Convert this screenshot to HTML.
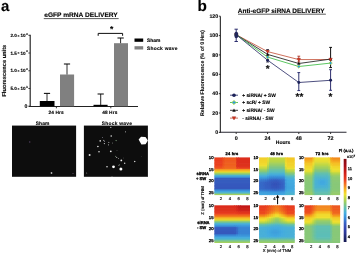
<!DOCTYPE html>
<html><head><meta charset="utf-8"><style>
html,body{margin:0;padding:0;background:#fff;}
svg{display:block;}
text{font-family:"Liberation Sans", sans-serif;text-rendering:geometricPrecision;}
</style></head><body>
<svg width="358" height="255" viewBox="0 0 358 255">
<defs><filter id="bl" x="-2%" y="-2%" width="104%" height="104%"><feGaussianBlur stdDeviation="0.5"/></filter>
<filter id="soft" x="0" y="0" width="100%" height="100%" filterUnits="userSpaceOnUse"><feGaussianBlur stdDeviation="0.3"/></filter></defs>
<rect x="0" y="0" width="358" height="255" fill="#fff"/>
<g filter="url(#soft)">
<text x="1.10" y="11.20" font-size="15.0" text-anchor="start" font-weight="bold" fill="#000"  stroke="#000" stroke-width="0.12">a</text>
<text x="81.00" y="17.30" font-size="6.6" text-anchor="middle" font-weight="bold" fill="#000"  stroke="#000" stroke-width="0.12">eGFP mRNA DELIVERY</text>
<line x1="43.80" y1="18.60" x2="118.60" y2="18.60" stroke="#111" stroke-width="0.7" />
<line x1="30.20" y1="34.80" x2="30.20" y2="106.90" stroke="#222" stroke-width="1.15" />
<line x1="28.40" y1="35.30" x2="30.20" y2="35.30" stroke="#222" stroke-width="0.9" />
<text x="10.40" y="36.85" font-size="4.6" text-anchor="start" font-weight="bold" fill="#000"  stroke="#000" stroke-width="0.12">2.0</text>
<text x="17.60" y="36.60" font-size="3.4" text-anchor="start" font-weight="normal" fill="#000" stroke="#000" stroke-width="0.2">×</text>
<text x="20.50" y="36.85" font-size="4.6" text-anchor="start" font-weight="bold" fill="#000"  stroke="#000" stroke-width="0.12">10</text>
<text x="26.00" y="34.60" font-size="3.0" text-anchor="start" font-weight="bold" fill="#000"  stroke="#000" stroke-width="0.12">4</text>
<line x1="28.40" y1="53.02" x2="30.20" y2="53.02" stroke="#222" stroke-width="0.9" />
<text x="10.40" y="54.57" font-size="4.6" text-anchor="start" font-weight="bold" fill="#000"  stroke="#000" stroke-width="0.12">1.5</text>
<text x="17.60" y="54.32" font-size="3.4" text-anchor="start" font-weight="normal" fill="#000" stroke="#000" stroke-width="0.2">×</text>
<text x="20.50" y="54.57" font-size="4.6" text-anchor="start" font-weight="bold" fill="#000"  stroke="#000" stroke-width="0.12">10</text>
<text x="26.00" y="52.32" font-size="3.0" text-anchor="start" font-weight="bold" fill="#000"  stroke="#000" stroke-width="0.12">4</text>
<line x1="28.40" y1="70.75" x2="30.20" y2="70.75" stroke="#222" stroke-width="0.9" />
<text x="10.40" y="72.30" font-size="4.6" text-anchor="start" font-weight="bold" fill="#000"  stroke="#000" stroke-width="0.12">1.0</text>
<text x="17.60" y="72.05" font-size="3.4" text-anchor="start" font-weight="normal" fill="#000" stroke="#000" stroke-width="0.2">×</text>
<text x="20.50" y="72.30" font-size="4.6" text-anchor="start" font-weight="bold" fill="#000"  stroke="#000" stroke-width="0.12">10</text>
<text x="26.00" y="70.05" font-size="3.0" text-anchor="start" font-weight="bold" fill="#000"  stroke="#000" stroke-width="0.12">4</text>
<line x1="28.40" y1="88.47" x2="30.20" y2="88.47" stroke="#222" stroke-width="0.9" />
<text x="10.40" y="90.02" font-size="4.6" text-anchor="start" font-weight="bold" fill="#000"  stroke="#000" stroke-width="0.12">5.0</text>
<text x="17.60" y="89.77" font-size="3.4" text-anchor="start" font-weight="normal" fill="#000" stroke="#000" stroke-width="0.2">×</text>
<text x="20.50" y="90.02" font-size="4.6" text-anchor="start" font-weight="bold" fill="#000"  stroke="#000" stroke-width="0.12">10</text>
<text x="26.00" y="87.77" font-size="3.0" text-anchor="start" font-weight="bold" fill="#000"  stroke="#000" stroke-width="0.12">3</text>
<line x1="28.40" y1="106.20" x2="30.20" y2="106.20" stroke="#222" stroke-width="0.9" />
<text x="24.50" y="108.10" font-size="5.2" text-anchor="start" font-weight="bold" fill="#000"  stroke="#000" stroke-width="0.12">0</text>
<text transform="translate(6.0,70.7) rotate(-90)" x="0" y="0" font-size="5.7" text-anchor="middle" font-weight="bold" fill="#111" stroke="#000" stroke-width="0.12">Fluorescence units</text>
<line x1="28.80" y1="106.45" x2="138.00" y2="106.45" stroke="#222" stroke-width="1.15" />
<line x1="56.40" y1="106.45" x2="56.40" y2="108.30" stroke="#222" stroke-width="0.9" />
<line x1="110.80" y1="106.45" x2="110.80" y2="108.30" stroke="#222" stroke-width="0.9" />
<text x="56.10" y="114.00" font-size="4.8" text-anchor="middle" font-weight="bold" fill="#000" letter-spacing="0.1" stroke="#000" stroke-width="0.12">24 Hrs</text>
<text x="109.80" y="114.00" font-size="4.8" text-anchor="middle" font-weight="bold" fill="#000" letter-spacing="0.1" stroke="#000" stroke-width="0.12">48 Hrs</text>
<rect x="39.80" y="101.00" width="14.70" height="5.30" fill="#000" />
<rect x="60.00" y="74.50" width="14.10" height="31.80" fill="#808080" />
<rect x="93.50" y="104.80" width="14.10" height="1.50" fill="#000" />
<rect x="114.00" y="43.20" width="14.00" height="63.10" fill="#808080" />
<line x1="47.00" y1="93.40" x2="47.00" y2="101.00" stroke="#111" stroke-width="0.9" />
<line x1="43.90" y1="93.40" x2="50.10" y2="93.40" stroke="#111" stroke-width="1.08" />
<line x1="67.00" y1="64.00" x2="67.00" y2="74.50" stroke="#111" stroke-width="0.9" />
<line x1="63.90" y1="64.00" x2="70.10" y2="64.00" stroke="#111" stroke-width="1.08" />
<line x1="100.70" y1="94.00" x2="100.70" y2="105.00" stroke="#111" stroke-width="0.9" />
<line x1="97.60" y1="94.00" x2="103.80" y2="94.00" stroke="#111" stroke-width="1.08" />
<line x1="120.60" y1="38.00" x2="120.60" y2="43.20" stroke="#111" stroke-width="0.9" />
<line x1="117.50" y1="38.00" x2="123.70" y2="38.00" stroke="#111" stroke-width="1.08" />
<path d="M98.2,35.8 L98.2,33.4 L122.6,33.4 L122.6,35.8" fill="none" stroke="#111" stroke-width="1.0"/>
<text x="111.60" y="32.20" font-size="8.5" text-anchor="middle" font-weight="bold" fill="#000"  stroke="#000" stroke-width="0.12">*</text>
<rect x="134.50" y="38.50" width="8.70" height="3.30" fill="#000" />
<rect x="134.50" y="46.20" width="8.70" height="3.30" fill="#808080" />
<text x="147.00" y="41.80" font-size="4.9" text-anchor="start" font-weight="bold" fill="#000"  stroke="#000" stroke-width="0.12">Sham</text>
<text x="147.00" y="49.80" font-size="4.9" text-anchor="start" font-weight="bold" fill="#000" letter-spacing="0.28" stroke="#000" stroke-width="0.12">Shock wave</text>
<text x="42.60" y="124.70" font-size="4.9" text-anchor="middle" font-weight="bold" fill="#000" letter-spacing="0.15" stroke="#000" stroke-width="0.12">Sham</text>
<text x="117.00" y="124.70" font-size="4.9" text-anchor="middle" font-weight="bold" fill="#000" letter-spacing="0.25" stroke="#000" stroke-width="0.12">Shock wave</text>
<rect x="12.00" y="125.60" width="64.10" height="51.20" fill="#090909" />
<rect x="83.90" y="125.60" width="64.00" height="51.20" fill="#090909" />
<circle cx="29.8" cy="142" r="0.7" fill="#5a4a70"/>
<circle cx="51.5" cy="173" r="0.9" fill="#bbb"/>
<circle cx="73" cy="173.6" r="0.7" fill="#5a4a60"/>
<circle cx="110.8" cy="127.4" r="0.6" fill="#ccc"/>
<circle cx="111.2" cy="136" r="0.8" fill="#ddd"/>
<circle cx="100.2" cy="140.9" r="0.8" fill="#ddd"/>
<circle cx="103.8" cy="140.4" r="0.6" fill="#aaa"/>
<circle cx="104.4" cy="143.6" r="0.7" fill="#bbb"/>
<circle cx="108.8" cy="142.4" r="0.6" fill="#999"/>
<circle cx="108.5" cy="144.8" r="0.6" fill="#aaa"/>
<circle cx="97.9" cy="146.5" r="0.8" fill="#eee"/>
<circle cx="99" cy="151.8" r="0.8" fill="#ddd"/>
<circle cx="110.8" cy="151.3" r="0.9" fill="#eee"/>
<circle cx="116.1" cy="140.6" r="0.6" fill="#8a8"/>
<circle cx="112.6" cy="143" r="0.5" fill="#888"/>
<circle cx="89.6" cy="155.1" r="1.0" fill="#ddd"/>
<circle cx="116.7" cy="157.4" r="0.6" fill="#aaa"/>
<circle cx="121.3" cy="160.4" r="0.9" fill="#eee"/>
<circle cx="124.7" cy="163.3" r="0.7" fill="#ddd"/>
<circle cx="107" cy="166.8" r="0.8" fill="#ddd"/>
<circle cx="113.5" cy="166.8" r="1.4" fill="#fff"/>
<circle cx="120.9" cy="169" r="1.5" fill="#fff"/>
<circle cx="86.7" cy="173" r="0.5" fill="#999"/>
<circle cx="112" cy="176.2" r="0.5" fill="#999"/>
<circle cx="125.5" cy="131.8" r="0.6" fill="#aaa"/>
<circle cx="134.7" cy="161.5" r="0.8" fill="#ccc"/>
<circle cx="118.8" cy="165.6" r="0.5" fill="#888"/>
<circle cx="141.2" cy="156.8" r="0.4" fill="#777"/>
<circle cx="115.4" cy="156.2" r="0.5" fill="#8a8"/>
<circle cx="118.5" cy="158.5" r="0.5" fill="#999"/>
<circle cx="119.3" cy="164.8" r="0.5" fill="#9a9"/>
<circle cx="104.5" cy="141.5" r="0.5" fill="#889"/>
<circle cx="102.5" cy="137.5" r="0.5" fill="#778"/>
<circle cx="117" cy="150.5" r="0.4" fill="#777"/>
<circle cx="123.5" cy="158" r="0.4" fill="#777"/>
<path d="M138.6,139.5 L141,136.8 L145.5,137 L147.9,140.5 L145.6,144.2 L141.4,144.6 Z" fill="#fff"/>
<text x="197.50" y="11.20" font-size="15.3" text-anchor="start" font-weight="bold" fill="#000"  stroke="#000" stroke-width="0.12">b</text>
<text x="281.20" y="12.80" font-size="6.5" text-anchor="middle" font-weight="bold" fill="#000"  stroke="#000" stroke-width="0.12">Anti-eGFP siRNA DELIVERY</text>
<line x1="238.00" y1="14.20" x2="325.80" y2="14.20" stroke="#111" stroke-width="0.7" />
<line x1="220.35" y1="16.20" x2="220.35" y2="132.80" stroke="#222" stroke-width="1.1" />
<line x1="218.85" y1="132.40" x2="220.35" y2="132.40" stroke="#222" stroke-width="0.9" />
<text x="218.15" y="134.20" font-size="5.2" text-anchor="end" font-weight="bold" fill="#000"  stroke="#000" stroke-width="0.12">0</text>
<line x1="218.85" y1="113.03" x2="220.35" y2="113.03" stroke="#222" stroke-width="0.9" />
<text x="218.15" y="114.83" font-size="5.2" text-anchor="end" font-weight="bold" fill="#000"  stroke="#000" stroke-width="0.12">20</text>
<line x1="218.85" y1="93.67" x2="220.35" y2="93.67" stroke="#222" stroke-width="0.9" />
<text x="218.15" y="95.47" font-size="5.2" text-anchor="end" font-weight="bold" fill="#000"  stroke="#000" stroke-width="0.12">40</text>
<line x1="218.85" y1="74.30" x2="220.35" y2="74.30" stroke="#222" stroke-width="0.9" />
<text x="218.15" y="76.10" font-size="5.2" text-anchor="end" font-weight="bold" fill="#000"  stroke="#000" stroke-width="0.12">60</text>
<line x1="218.85" y1="54.93" x2="220.35" y2="54.93" stroke="#222" stroke-width="0.9" />
<text x="218.15" y="56.73" font-size="5.2" text-anchor="end" font-weight="bold" fill="#000"  stroke="#000" stroke-width="0.12">80</text>
<line x1="218.85" y1="35.57" x2="220.35" y2="35.57" stroke="#222" stroke-width="0.9" />
<text x="218.15" y="37.37" font-size="5.2" text-anchor="end" font-weight="bold" fill="#000"  stroke="#000" stroke-width="0.12">100</text>
<line x1="218.85" y1="16.20" x2="220.35" y2="16.20" stroke="#222" stroke-width="0.9" />
<text x="218.15" y="18.00" font-size="5.2" text-anchor="end" font-weight="bold" fill="#000"  stroke="#000" stroke-width="0.12">120</text>
<text transform="translate(204.2,73.0) rotate(-90)" x="0" y="0" font-size="5.25" text-anchor="middle" font-weight="bold" fill="#111" stroke="#000" stroke-width="0.1">Relative Fluorescence (% of 0 Hrs)</text>
<line x1="219.80" y1="132.25" x2="346.50" y2="132.25" stroke="#2a2a30" stroke-width="1.1" />
<line x1="236.20" y1="132.25" x2="236.20" y2="134.00" stroke="#222" stroke-width="0.9" />
<text x="236.20" y="140.20" font-size="5.4" text-anchor="middle" font-weight="bold" fill="#000"  stroke="#000" stroke-width="0.12">0</text>
<line x1="267.60" y1="132.25" x2="267.60" y2="134.00" stroke="#222" stroke-width="0.9" />
<text x="267.60" y="140.20" font-size="5.4" text-anchor="middle" font-weight="bold" fill="#000"  stroke="#000" stroke-width="0.12">24</text>
<line x1="298.80" y1="132.25" x2="298.80" y2="134.00" stroke="#222" stroke-width="0.9" />
<text x="298.80" y="140.20" font-size="5.4" text-anchor="middle" font-weight="bold" fill="#000"  stroke="#000" stroke-width="0.12">48</text>
<line x1="330.60" y1="132.25" x2="330.60" y2="134.00" stroke="#222" stroke-width="0.9" />
<text x="330.60" y="140.20" font-size="5.4" text-anchor="middle" font-weight="bold" fill="#000"  stroke="#000" stroke-width="0.12">72</text>
<text x="283.00" y="144.20" font-size="5.0" text-anchor="middle" font-weight="bold" fill="#000"  stroke="#000" stroke-width="0.12">Hours</text>
<line x1="236.20" y1="29.20" x2="236.20" y2="41.50" stroke="#2c2f6e" stroke-width="1.0" />
<line x1="234.50" y1="29.20" x2="237.90" y2="29.20" stroke="#2c2f6e" stroke-width="1.0" />
<line x1="234.50" y1="41.50" x2="237.90" y2="41.50" stroke="#2c2f6e" stroke-width="1.0" />
<line x1="267.60" y1="49.60" x2="267.60" y2="62.00" stroke="#2a2a40" stroke-width="0.9" />
<line x1="266.20" y1="49.60" x2="269.00" y2="49.60" stroke="#2a2a40" stroke-width="0.9" />
<line x1="266.20" y1="62.00" x2="269.00" y2="62.00" stroke="#2a2a40" stroke-width="0.9" />
<line x1="298.80" y1="56.20" x2="298.80" y2="62.00" stroke="#b03020" stroke-width="0.9" />
<line x1="297.40" y1="56.20" x2="300.20" y2="56.20" stroke="#b03020" stroke-width="0.9" />
<line x1="297.40" y1="62.00" x2="300.20" y2="62.00" stroke="#b03020" stroke-width="0.9" />
<line x1="298.80" y1="72.60" x2="298.80" y2="90.60" stroke="#2c2f6e" stroke-width="1.0" />
<line x1="297.40" y1="72.60" x2="300.20" y2="72.60" stroke="#2c2f6e" stroke-width="1.0" />
<line x1="297.40" y1="90.60" x2="300.20" y2="90.60" stroke="#2c2f6e" stroke-width="1.0" />
<line x1="330.60" y1="47.40" x2="330.60" y2="67.60" stroke="#111" stroke-width="1.0" />
<line x1="329.20" y1="47.40" x2="332.00" y2="47.40" stroke="#111" stroke-width="1.0" />
<line x1="329.20" y1="67.60" x2="332.00" y2="67.60" stroke="#111" stroke-width="1.0" />
<line x1="330.60" y1="69.70" x2="330.60" y2="90.30" stroke="#2c2f6e" stroke-width="1.0" />
<line x1="329.20" y1="69.70" x2="332.00" y2="69.70" stroke="#2c2f6e" stroke-width="1.0" />
<line x1="329.20" y1="90.30" x2="332.00" y2="90.30" stroke="#2c2f6e" stroke-width="1.0" />
<polyline points="236.2,34.7 267.6,51.6 298.8,59.6 330.6,59.5" fill="none" stroke="#c8604a" stroke-width="0.9"/>
<polyline points="236.2,34.7 267.6,54.4 298.8,63.5 330.6,59.1" fill="none" stroke="#2a2a2a" stroke-width="0.9"/>
<polyline points="236.2,34.7 267.6,57.1 298.8,66.5 330.6,63.1" fill="none" stroke="#48c050" stroke-width="0.9"/>
<polyline points="236.2,34.7 267.6,60.2 298.8,82.5 330.6,80.3" fill="none" stroke="#3a3c72" stroke-width="0.9"/>
<circle cx="236.20" cy="34.70" r="1.45" fill="#1c2058"/>
<circle cx="267.60" cy="60.20" r="1.45" fill="#1c2058"/>
<circle cx="298.80" cy="82.50" r="1.45" fill="#1c2058"/>
<circle cx="330.60" cy="80.30" r="1.45" fill="#1c2058"/>
<path d="M234.50,34.70 L236.20,33.00 L237.90,34.70 L236.20,36.40 Z" fill="#2c9ce0" stroke="#b0dc40" stroke-width="0.70"/>
<path d="M265.90,57.10 L267.60,55.40 L269.30,57.10 L267.60,58.80 Z" fill="#2c9ce0" stroke="#b0dc40" stroke-width="0.70"/>
<path d="M297.10,66.50 L298.80,64.80 L300.50,66.50 L298.80,68.20 Z" fill="#2c9ce0" stroke="#b0dc40" stroke-width="0.70"/>
<path d="M328.90,63.10 L330.60,61.40 L332.30,63.10 L330.60,64.80 Z" fill="#2c9ce0" stroke="#b0dc40" stroke-width="0.70"/>
<path d="M234.50,35.98 L236.20,33.00 L237.90,35.98 Z" fill="#111"/>
<path d="M265.90,55.67 L267.60,52.70 L269.30,55.67 Z" fill="#111"/>
<path d="M297.10,64.78 L298.80,61.80 L300.50,64.78 Z" fill="#111"/>
<path d="M328.90,60.38 L330.60,57.40 L332.30,60.38 Z" fill="#111"/>
<path d="M234.50,33.43 L236.20,36.40 L237.90,33.43 Z" fill="#e03a1c" stroke="#801010" stroke-width="0.4"/>
<path d="M265.90,50.33 L267.60,53.30 L269.30,50.33 Z" fill="#e03a1c" stroke="#801010" stroke-width="0.4"/>
<path d="M297.10,58.33 L298.80,61.30 L300.50,58.33 Z" fill="#e03a1c" stroke="#801010" stroke-width="0.4"/>
<path d="M328.90,58.23 L330.60,61.20 L332.30,58.23 Z" fill="#e03a1c" stroke="#801010" stroke-width="0.4"/>
<ellipse cx="236.3" cy="35.0" rx="1.9" ry="3.2" fill="#23285a"/>
<text x="267.60" y="71.80" font-size="10.0" text-anchor="middle" font-weight="bold" fill="#000"  stroke="#000" stroke-width="0.12">*</text>
<text x="299.40" y="100.30" font-size="10.0" text-anchor="middle" font-weight="bold" fill="#000"  stroke="#000" stroke-width="0.12">**</text>
<text x="330.50" y="100.30" font-size="10.0" text-anchor="middle" font-weight="bold" fill="#000"  stroke="#000" stroke-width="0.12">*</text>
<line x1="230.00" y1="95.20" x2="238.00" y2="95.20" stroke="#3a3c72" stroke-width="0.9" />
<circle cx="234.00" cy="95.20" r="1.81" fill="#1c2058"/>
<text x="242.20" y="96.90" font-size="4.9" text-anchor="start" font-weight="bold" fill="#000"  stroke="#000" stroke-width="0.12">+ siRNA/ + SW</text>
<line x1="230.00" y1="102.50" x2="238.00" y2="102.50" stroke="#48c050" stroke-width="0.9" />
<path d="M231.88,102.50 L234.00,100.38 L236.12,102.50 L234.00,104.62 Z" fill="#2c9ce0" stroke="#b0dc40" stroke-width="0.88"/>
<text x="242.20" y="104.20" font-size="4.9" text-anchor="start" font-weight="bold" fill="#000"  stroke="#000" stroke-width="0.12">+ scR/ + SW</text>
<line x1="230.00" y1="110.30" x2="238.00" y2="110.30" stroke="#2a2a2a" stroke-width="0.9" />
<path d="M232.22,111.64 L234.00,108.52 L235.78,111.64 Z" fill="#111"/>
<text x="242.20" y="112.00" font-size="4.9" text-anchor="start" font-weight="bold" fill="#000"  stroke="#000" stroke-width="0.12">+ siRNA/ - SW</text>
<line x1="230.00" y1="118.10" x2="238.00" y2="118.10" stroke="#c8604a" stroke-width="0.9" />
<path d="M232.22,116.76 L234.00,119.88 L235.78,116.76 Z" fill="#e03a1c" stroke="#801010" stroke-width="0.4"/>
<text x="242.20" y="119.80" font-size="4.9" text-anchor="start" font-weight="bold" fill="#000"  stroke="#000" stroke-width="0.12">- siRNA/ - SW</text>
<g filter="url(#bl)">
<rect x="214.40" y="157.40" width="8.61" height="2.15" fill="#e83e20"/>
<rect x="222.31" y="157.40" width="2.68" height="2.15" fill="#ec4d20"/>
<rect x="224.29" y="157.40" width="12.57" height="2.15" fill="#ee5920"/>
<rect x="236.16" y="157.40" width="2.68" height="2.15" fill="#dc2e1d"/>
<rect x="238.13" y="157.40" width="11.87" height="2.15" fill="#dc2d1d"/>
<rect x="214.40" y="158.85" width="8.61" height="2.15" fill="#e93f20"/>
<rect x="222.31" y="158.85" width="2.68" height="2.15" fill="#ec4f20"/>
<rect x="224.29" y="158.85" width="12.57" height="2.15" fill="#ee5b20"/>
<rect x="236.16" y="158.85" width="2.68" height="2.15" fill="#dd2e1d"/>
<rect x="238.13" y="158.85" width="11.87" height="2.15" fill="#dc2e1d"/>
<rect x="214.40" y="160.30" width="8.61" height="2.15" fill="#e93f20"/>
<rect x="222.31" y="160.30" width="2.68" height="2.15" fill="#ec5120"/>
<rect x="224.29" y="160.30" width="12.57" height="2.15" fill="#ee5d20"/>
<rect x="236.16" y="160.30" width="13.84" height="2.15" fill="#dd2f1d"/>
<rect x="214.40" y="161.75" width="8.61" height="2.15" fill="#ea4020"/>
<rect x="222.31" y="161.75" width="2.68" height="2.15" fill="#ed5220"/>
<rect x="224.29" y="161.75" width="12.57" height="2.15" fill="#ee5e20"/>
<rect x="236.16" y="161.75" width="2.68" height="2.15" fill="#de301d"/>
<rect x="238.13" y="161.75" width="11.87" height="2.15" fill="#dd2f1d"/>
<rect x="214.40" y="163.20" width="8.61" height="2.15" fill="#ea4220"/>
<rect x="222.31" y="163.20" width="2.68" height="2.15" fill="#ed5420"/>
<rect x="224.29" y="163.20" width="12.57" height="2.15" fill="#ef6020"/>
<rect x="236.16" y="163.20" width="2.68" height="2.15" fill="#de311d"/>
<rect x="238.13" y="163.20" width="11.87" height="2.15" fill="#de301d"/>
<rect x="214.40" y="164.65" width="8.61" height="2.15" fill="#ea4320"/>
<rect x="222.31" y="164.65" width="2.68" height="2.15" fill="#ed5520"/>
<rect x="224.29" y="164.65" width="12.57" height="2.15" fill="#ef6120"/>
<rect x="236.16" y="164.65" width="2.68" height="2.15" fill="#df311e"/>
<rect x="238.13" y="164.65" width="11.87" height="2.15" fill="#de311d"/>
<rect x="214.40" y="166.10" width="8.61" height="2.15" fill="#eb4520"/>
<rect x="222.31" y="166.10" width="2.68" height="2.15" fill="#ed5720"/>
<rect x="224.29" y="166.10" width="12.57" height="2.15" fill="#ef6320"/>
<rect x="236.16" y="166.10" width="2.68" height="2.15" fill="#df321e"/>
<rect x="238.13" y="166.10" width="11.87" height="2.15" fill="#df311e"/>
<rect x="214.40" y="167.55" width="8.61" height="2.15" fill="#ef6020"/>
<rect x="222.31" y="167.55" width="2.68" height="2.15" fill="#f06820"/>
<rect x="224.29" y="167.55" width="12.57" height="2.15" fill="#f16e20"/>
<rect x="236.16" y="167.55" width="2.68" height="2.15" fill="#ec4e20"/>
<rect x="238.13" y="167.55" width="11.87" height="2.15" fill="#ec4d20"/>
<rect x="214.40" y="169.00" width="35.60" height="2.15" fill="#f49920"/>
<rect x="214.40" y="170.45" width="35.60" height="2.15" fill="#f2cb28"/>
<rect x="214.40" y="171.90" width="35.60" height="2.15" fill="#cad940"/>
<rect x="214.40" y="173.35" width="35.60" height="2.15" fill="#85c77d"/>
<rect x="214.40" y="174.80" width="35.60" height="2.15" fill="#4eb3d0"/>
<rect x="214.40" y="176.25" width="35.60" height="2.15" fill="#3d9adb"/>
<rect x="214.40" y="177.70" width="35.60" height="2.15" fill="#365dc0"/>
<rect x="214.40" y="179.15" width="35.60" height="2.15" fill="#365cbf"/>
<rect x="214.40" y="180.60" width="35.60" height="2.15" fill="#355bbf"/>
<rect x="214.40" y="182.05" width="35.60" height="2.15" fill="#355bbe"/>
<rect x="214.40" y="183.50" width="35.60" height="2.15" fill="#355abe"/>
<rect x="214.40" y="184.95" width="35.60" height="2.15" fill="#3559bd"/>
<rect x="214.40" y="186.40" width="35.60" height="2.15" fill="#3558bd"/>
<rect x="214.40" y="187.85" width="35.60" height="2.15" fill="#3558bc"/>
<rect x="214.40" y="189.30" width="35.60" height="2.15" fill="#3887d5"/>
<rect x="214.40" y="190.75" width="35.60" height="2.15" fill="#42a5de"/>
<rect x="214.40" y="192.20" width="35.60" height="2.15" fill="#52b6c9"/>
<rect x="214.40" y="193.65" width="35.60" height="1.45" fill="#a1cf5f"/>
<rect x="259.10" y="157.40" width="8.61" height="2.15" fill="#f2cf2a"/>
<rect x="267.01" y="157.40" width="2.68" height="2.15" fill="#e4de35"/>
<rect x="268.99" y="157.40" width="16.52" height="2.15" fill="#c3d843"/>
<rect x="284.81" y="157.40" width="2.68" height="2.15" fill="#f2d12b"/>
<rect x="286.79" y="157.40" width="7.91" height="2.15" fill="#f3c727"/>
<rect x="259.10" y="158.85" width="8.61" height="2.15" fill="#f2d12b"/>
<rect x="267.01" y="158.85" width="2.68" height="2.15" fill="#e1dd37"/>
<rect x="268.99" y="158.85" width="16.52" height="2.15" fill="#bed745"/>
<rect x="284.81" y="158.85" width="2.68" height="2.15" fill="#f1d42c"/>
<rect x="286.79" y="158.85" width="7.91" height="2.15" fill="#f3c928"/>
<rect x="259.10" y="160.30" width="8.61" height="2.15" fill="#f1d32b"/>
<rect x="267.01" y="160.30" width="2.68" height="2.15" fill="#dddd38"/>
<rect x="268.99" y="160.30" width="16.52" height="2.15" fill="#b9d647"/>
<rect x="284.81" y="160.30" width="2.68" height="2.15" fill="#f1d62d"/>
<rect x="286.79" y="160.30" width="7.91" height="2.15" fill="#f2cc29"/>
<rect x="259.10" y="161.75" width="8.61" height="2.15" fill="#f1d52c"/>
<rect x="267.01" y="161.75" width="2.68" height="2.15" fill="#d5db3c"/>
<rect x="268.99" y="161.75" width="16.52" height="2.15" fill="#aed352"/>
<rect x="284.81" y="161.75" width="2.68" height="2.15" fill="#f1da2e"/>
<rect x="286.79" y="161.75" width="7.91" height="2.15" fill="#f2cf2a"/>
<rect x="259.10" y="163.20" width="8.61" height="2.15" fill="#f1d72d"/>
<rect x="267.01" y="163.20" width="2.68" height="2.15" fill="#ccda3f"/>
<rect x="268.99" y="163.20" width="16.52" height="2.15" fill="#a0cf60"/>
<rect x="284.81" y="163.20" width="2.68" height="2.15" fill="#f0df2f"/>
<rect x="286.79" y="163.20" width="7.91" height="2.15" fill="#f2d12b"/>
<rect x="259.10" y="164.65" width="8.61" height="2.15" fill="#eddf31"/>
<rect x="267.01" y="164.65" width="2.68" height="2.15" fill="#bcd746"/>
<rect x="268.99" y="164.65" width="16.52" height="2.15" fill="#92cb6e"/>
<rect x="284.81" y="164.65" width="2.68" height="2.15" fill="#ecdf32"/>
<rect x="286.79" y="164.65" width="7.91" height="2.15" fill="#f1d42c"/>
<rect x="259.10" y="166.10" width="8.61" height="2.15" fill="#d7dc3b"/>
<rect x="267.01" y="166.10" width="2.68" height="2.15" fill="#abd255"/>
<rect x="268.99" y="166.10" width="16.52" height="2.15" fill="#84c77d"/>
<rect x="284.81" y="166.10" width="2.68" height="2.15" fill="#e7de34"/>
<rect x="286.79" y="166.10" width="7.91" height="2.15" fill="#f1d62c"/>
<rect x="259.10" y="167.55" width="8.61" height="2.15" fill="#bed745"/>
<rect x="267.01" y="167.55" width="2.68" height="2.15" fill="#9acd66"/>
<rect x="268.99" y="167.55" width="16.52" height="2.15" fill="#77c490"/>
<rect x="284.81" y="167.55" width="2.68" height="2.15" fill="#d6db3b"/>
<rect x="286.79" y="167.55" width="7.91" height="2.15" fill="#ebdf32"/>
<rect x="259.10" y="169.00" width="8.61" height="2.15" fill="#a6d15a"/>
<rect x="267.01" y="169.00" width="2.68" height="2.15" fill="#87c879"/>
<rect x="268.99" y="169.00" width="16.52" height="2.15" fill="#6bc1a3"/>
<rect x="284.81" y="169.00" width="2.68" height="2.15" fill="#bcd746"/>
<rect x="286.79" y="169.00" width="7.91" height="2.15" fill="#d0da3e"/>
<rect x="259.10" y="170.45" width="8.61" height="2.15" fill="#8cc974"/>
<rect x="267.01" y="170.45" width="2.68" height="2.15" fill="#75c494"/>
<rect x="268.99" y="170.45" width="16.52" height="2.15" fill="#5ebeb5"/>
<rect x="284.81" y="170.45" width="2.68" height="2.15" fill="#a4d05c"/>
<rect x="286.79" y="170.45" width="7.91" height="2.15" fill="#b3d44d"/>
<rect x="259.10" y="171.90" width="6.63" height="2.15" fill="#72c397"/>
<rect x="265.03" y="171.90" width="2.68" height="2.15" fill="#72c398"/>
<rect x="267.01" y="171.90" width="2.68" height="2.15" fill="#61bfb1"/>
<rect x="268.99" y="171.90" width="2.68" height="2.15" fill="#55b9c3"/>
<rect x="270.97" y="171.90" width="8.61" height="2.15" fill="#55b9c4"/>
<rect x="278.88" y="171.90" width="6.63" height="2.15" fill="#55b9c3"/>
<rect x="284.81" y="171.90" width="2.68" height="2.15" fill="#8ac976"/>
<rect x="286.79" y="171.90" width="7.91" height="2.15" fill="#97cc69"/>
<rect x="259.10" y="173.35" width="8.61" height="2.15" fill="#5abdbb"/>
<rect x="267.01" y="173.35" width="2.68" height="2.15" fill="#52b6c9"/>
<rect x="268.99" y="173.35" width="2.68" height="2.15" fill="#49b0d7"/>
<rect x="270.97" y="173.35" width="8.61" height="2.15" fill="#49b0d8"/>
<rect x="278.88" y="173.35" width="4.66" height="2.15" fill="#49b0d7"/>
<rect x="282.83" y="173.35" width="2.68" height="2.15" fill="#4ab0d7"/>
<rect x="284.81" y="173.35" width="2.68" height="2.15" fill="#71c39a"/>
<rect x="286.79" y="173.35" width="7.91" height="2.15" fill="#7cc589"/>
<rect x="259.10" y="174.80" width="6.63" height="2.15" fill="#4cb2d2"/>
<rect x="265.03" y="174.80" width="2.68" height="2.15" fill="#4cb2d3"/>
<rect x="267.01" y="174.80" width="2.68" height="2.15" fill="#44acdf"/>
<rect x="268.99" y="174.80" width="2.68" height="2.15" fill="#40a3de"/>
<rect x="270.97" y="174.80" width="8.61" height="2.15" fill="#40a2dd"/>
<rect x="278.88" y="174.80" width="2.68" height="2.15" fill="#40a2de"/>
<rect x="280.86" y="174.80" width="2.68" height="2.15" fill="#41a3de"/>
<rect x="282.83" y="174.80" width="2.68" height="2.15" fill="#41a4de"/>
<rect x="284.81" y="174.80" width="2.68" height="2.15" fill="#5abcbc"/>
<rect x="286.79" y="174.80" width="4.66" height="2.15" fill="#62bfaf"/>
<rect x="290.74" y="174.80" width="3.96" height="2.15" fill="#63bfae"/>
<rect x="259.10" y="176.25" width="6.63" height="2.15" fill="#41a4de"/>
<rect x="265.03" y="176.25" width="2.68" height="2.15" fill="#41a3de"/>
<rect x="267.01" y="176.25" width="2.68" height="2.15" fill="#3d9bdc"/>
<rect x="268.99" y="176.25" width="2.68" height="2.15" fill="#3a92d9"/>
<rect x="270.97" y="176.25" width="2.68" height="2.15" fill="#3a91d9"/>
<rect x="272.94" y="176.25" width="2.68" height="2.15" fill="#3a90d9"/>
<rect x="274.92" y="176.25" width="2.68" height="2.15" fill="#3990d9"/>
<rect x="276.90" y="176.25" width="2.68" height="2.15" fill="#3a91d9"/>
<rect x="278.88" y="176.25" width="2.68" height="2.15" fill="#3a92d9"/>
<rect x="280.86" y="176.25" width="2.68" height="2.15" fill="#3b93da"/>
<rect x="282.83" y="176.25" width="2.68" height="2.15" fill="#3b94da"/>
<rect x="284.81" y="176.25" width="2.68" height="2.15" fill="#4db3d0"/>
<rect x="286.79" y="176.25" width="2.68" height="2.15" fill="#53b7c7"/>
<rect x="288.77" y="176.25" width="4.66" height="2.15" fill="#53b8c6"/>
<rect x="292.72" y="176.25" width="1.98" height="2.15" fill="#54b8c6"/>
<rect x="259.10" y="177.70" width="2.68" height="2.15" fill="#3a92d9"/>
<rect x="261.08" y="177.70" width="4.66" height="2.15" fill="#3a91d9"/>
<rect x="265.03" y="177.70" width="2.68" height="2.15" fill="#398fd9"/>
<rect x="267.01" y="177.70" width="2.68" height="2.15" fill="#3888d6"/>
<rect x="268.99" y="177.70" width="2.68" height="2.15" fill="#377ed1"/>
<rect x="270.97" y="177.70" width="2.68" height="2.15" fill="#377cd0"/>
<rect x="272.94" y="177.70" width="4.66" height="2.15" fill="#377acf"/>
<rect x="276.90" y="177.70" width="2.68" height="2.15" fill="#377bd0"/>
<rect x="278.88" y="177.70" width="2.68" height="2.15" fill="#377ed1"/>
<rect x="280.86" y="177.70" width="2.68" height="2.15" fill="#3780d2"/>
<rect x="282.83" y="177.70" width="2.68" height="2.15" fill="#3883d4"/>
<rect x="284.81" y="177.70" width="2.68" height="2.15" fill="#44abe0"/>
<rect x="286.79" y="177.70" width="2.68" height="2.15" fill="#4ab0d7"/>
<rect x="288.77" y="177.70" width="5.93" height="2.15" fill="#4ab1d6"/>
<rect x="259.10" y="179.15" width="2.68" height="2.15" fill="#377fd2"/>
<rect x="261.08" y="179.15" width="2.68" height="2.15" fill="#377ed1"/>
<rect x="263.06" y="179.15" width="2.68" height="2.15" fill="#377dd1"/>
<rect x="265.03" y="179.15" width="2.68" height="2.15" fill="#377ad0"/>
<rect x="267.01" y="179.15" width="2.68" height="2.15" fill="#3773cc"/>
<rect x="268.99" y="179.15" width="2.68" height="2.15" fill="#366bc8"/>
<rect x="270.97" y="179.15" width="2.68" height="2.15" fill="#3666c6"/>
<rect x="272.94" y="179.15" width="2.68" height="2.15" fill="#3664c5"/>
<rect x="274.92" y="179.15" width="2.68" height="2.15" fill="#3663c5"/>
<rect x="276.90" y="179.15" width="2.68" height="2.15" fill="#3666c6"/>
<rect x="278.88" y="179.15" width="2.68" height="2.15" fill="#366ac8"/>
<rect x="280.86" y="179.15" width="2.68" height="2.15" fill="#376eca"/>
<rect x="282.83" y="179.15" width="2.68" height="2.15" fill="#3772cc"/>
<rect x="284.81" y="179.15" width="2.68" height="2.15" fill="#40a1dd"/>
<rect x="286.79" y="179.15" width="2.68" height="2.15" fill="#43aae0"/>
<rect x="288.77" y="179.15" width="4.66" height="2.15" fill="#44abe0"/>
<rect x="292.72" y="179.15" width="1.98" height="2.15" fill="#44ace0"/>
<rect x="259.10" y="180.60" width="2.68" height="2.15" fill="#3773cc"/>
<rect x="261.08" y="180.60" width="2.68" height="2.15" fill="#3772cb"/>
<rect x="263.06" y="180.60" width="2.68" height="2.15" fill="#376fca"/>
<rect x="265.03" y="180.60" width="2.68" height="2.15" fill="#366cc9"/>
<rect x="267.01" y="180.60" width="2.68" height="2.15" fill="#3666c6"/>
<rect x="268.99" y="180.60" width="2.68" height="2.15" fill="#3661c3"/>
<rect x="270.97" y="180.60" width="2.68" height="2.15" fill="#365dc0"/>
<rect x="272.94" y="180.60" width="2.68" height="2.15" fill="#355bbe"/>
<rect x="274.92" y="180.60" width="2.68" height="2.15" fill="#355abe"/>
<rect x="276.90" y="180.60" width="2.68" height="2.15" fill="#365cc0"/>
<rect x="278.88" y="180.60" width="2.68" height="2.15" fill="#3660c2"/>
<rect x="280.86" y="180.60" width="2.68" height="2.15" fill="#3665c5"/>
<rect x="282.83" y="180.60" width="2.68" height="2.15" fill="#366ac8"/>
<rect x="284.81" y="180.60" width="2.68" height="2.15" fill="#3f9fdd"/>
<rect x="286.79" y="180.60" width="2.68" height="2.15" fill="#43a9df"/>
<rect x="288.77" y="180.60" width="2.68" height="2.15" fill="#43aadf"/>
<rect x="290.74" y="180.60" width="2.68" height="2.15" fill="#43aae0"/>
<rect x="292.72" y="180.60" width="1.98" height="2.15" fill="#43abe0"/>
<rect x="259.10" y="182.05" width="2.68" height="2.15" fill="#3669c8"/>
<rect x="261.08" y="182.05" width="2.68" height="2.15" fill="#3668c7"/>
<rect x="263.06" y="182.05" width="2.68" height="2.15" fill="#3665c6"/>
<rect x="265.03" y="182.05" width="2.68" height="2.15" fill="#3661c3"/>
<rect x="267.01" y="182.05" width="2.68" height="2.15" fill="#3660c2"/>
<rect x="268.99" y="182.05" width="2.68" height="2.15" fill="#365dc1"/>
<rect x="270.97" y="182.05" width="2.68" height="2.15" fill="#3559bd"/>
<rect x="272.94" y="182.05" width="4.66" height="2.15" fill="#3556bb"/>
<rect x="276.90" y="182.05" width="2.68" height="2.15" fill="#3558bc"/>
<rect x="278.88" y="182.05" width="2.68" height="2.15" fill="#365dc0"/>
<rect x="280.86" y="182.05" width="2.68" height="2.15" fill="#3661c4"/>
<rect x="282.83" y="182.05" width="2.68" height="2.15" fill="#3668c7"/>
<rect x="284.81" y="182.05" width="2.68" height="2.15" fill="#3e9ddc"/>
<rect x="286.79" y="182.05" width="2.68" height="2.15" fill="#42a8df"/>
<rect x="288.77" y="182.05" width="5.93" height="2.15" fill="#43a9df"/>
<rect x="259.10" y="183.50" width="2.68" height="2.15" fill="#3669c8"/>
<rect x="261.08" y="183.50" width="2.68" height="2.15" fill="#3668c7"/>
<rect x="263.06" y="183.50" width="2.68" height="2.15" fill="#3665c5"/>
<rect x="265.03" y="183.50" width="2.68" height="2.15" fill="#3661c3"/>
<rect x="267.01" y="183.50" width="2.68" height="2.15" fill="#365fc1"/>
<rect x="268.99" y="183.50" width="2.68" height="2.15" fill="#365cbf"/>
<rect x="270.97" y="183.50" width="2.68" height="2.15" fill="#3557bb"/>
<rect x="272.94" y="183.50" width="2.68" height="2.15" fill="#3553b9"/>
<rect x="274.92" y="183.50" width="2.68" height="2.15" fill="#3553b8"/>
<rect x="276.90" y="183.50" width="2.68" height="2.15" fill="#3556bb"/>
<rect x="278.88" y="183.50" width="2.68" height="2.15" fill="#355bbe"/>
<rect x="280.86" y="183.50" width="2.68" height="2.15" fill="#3660c3"/>
<rect x="282.83" y="183.50" width="2.68" height="2.15" fill="#3667c6"/>
<rect x="284.81" y="183.50" width="2.68" height="2.15" fill="#3e9cdc"/>
<rect x="286.79" y="183.50" width="2.68" height="2.15" fill="#42a6df"/>
<rect x="288.77" y="183.50" width="2.68" height="2.15" fill="#42a8df"/>
<rect x="290.74" y="183.50" width="3.96" height="2.15" fill="#43a8df"/>
<rect x="259.10" y="184.95" width="2.68" height="2.15" fill="#3669c8"/>
<rect x="261.08" y="184.95" width="2.68" height="2.15" fill="#3668c7"/>
<rect x="263.06" y="184.95" width="2.68" height="2.15" fill="#3665c5"/>
<rect x="265.03" y="184.95" width="2.68" height="2.15" fill="#3661c3"/>
<rect x="267.01" y="184.95" width="2.68" height="2.15" fill="#365fc1"/>
<rect x="268.99" y="184.95" width="2.68" height="2.15" fill="#365cbf"/>
<rect x="270.97" y="184.95" width="2.68" height="2.15" fill="#3557bb"/>
<rect x="272.94" y="184.95" width="4.66" height="2.15" fill="#3553b9"/>
<rect x="276.90" y="184.95" width="2.68" height="2.15" fill="#3556bb"/>
<rect x="278.88" y="184.95" width="2.68" height="2.15" fill="#355bbe"/>
<rect x="280.86" y="184.95" width="2.68" height="2.15" fill="#3660c3"/>
<rect x="282.83" y="184.95" width="2.68" height="2.15" fill="#3667c6"/>
<rect x="284.81" y="184.95" width="2.68" height="2.15" fill="#3e9bdc"/>
<rect x="286.79" y="184.95" width="2.68" height="2.15" fill="#41a5de"/>
<rect x="288.77" y="184.95" width="5.93" height="2.15" fill="#42a7df"/>
<rect x="259.10" y="186.40" width="2.68" height="2.15" fill="#3669c8"/>
<rect x="261.08" y="186.40" width="2.68" height="2.15" fill="#3668c7"/>
<rect x="263.06" y="186.40" width="2.68" height="2.15" fill="#3665c6"/>
<rect x="265.03" y="186.40" width="2.68" height="2.15" fill="#3661c3"/>
<rect x="267.01" y="186.40" width="2.68" height="2.15" fill="#3660c2"/>
<rect x="268.99" y="186.40" width="2.68" height="2.15" fill="#365ec1"/>
<rect x="270.97" y="186.40" width="2.68" height="2.15" fill="#3559bd"/>
<rect x="272.94" y="186.40" width="4.66" height="2.15" fill="#3556bb"/>
<rect x="276.90" y="186.40" width="2.68" height="2.15" fill="#3558bd"/>
<rect x="278.88" y="186.40" width="2.68" height="2.15" fill="#365dc0"/>
<rect x="280.86" y="186.40" width="2.68" height="2.15" fill="#3662c4"/>
<rect x="282.83" y="186.40" width="2.68" height="2.15" fill="#3668c7"/>
<rect x="284.81" y="186.40" width="2.68" height="2.15" fill="#3d9bdc"/>
<rect x="286.79" y="186.40" width="2.68" height="2.15" fill="#41a4de"/>
<rect x="288.77" y="186.40" width="2.68" height="2.15" fill="#42a6de"/>
<rect x="290.74" y="186.40" width="3.96" height="2.15" fill="#42a6df"/>
<rect x="259.10" y="187.85" width="2.68" height="2.15" fill="#366ac8"/>
<rect x="261.08" y="187.85" width="2.68" height="2.15" fill="#3669c7"/>
<rect x="263.06" y="187.85" width="2.68" height="2.15" fill="#3666c6"/>
<rect x="265.03" y="187.85" width="2.68" height="2.15" fill="#3663c4"/>
<rect x="267.01" y="187.85" width="2.68" height="2.15" fill="#3662c4"/>
<rect x="268.99" y="187.85" width="2.68" height="2.15" fill="#3661c3"/>
<rect x="270.97" y="187.85" width="2.68" height="2.15" fill="#365dc0"/>
<rect x="272.94" y="187.85" width="2.68" height="2.15" fill="#355bbf"/>
<rect x="274.92" y="187.85" width="2.68" height="2.15" fill="#355bbe"/>
<rect x="276.90" y="187.85" width="2.68" height="2.15" fill="#365dc0"/>
<rect x="278.88" y="187.85" width="2.68" height="2.15" fill="#3660c2"/>
<rect x="280.86" y="187.85" width="2.68" height="2.15" fill="#3665c5"/>
<rect x="282.83" y="187.85" width="2.68" height="2.15" fill="#366ac8"/>
<rect x="284.81" y="187.85" width="2.68" height="2.15" fill="#3e9bdc"/>
<rect x="286.79" y="187.85" width="2.68" height="2.15" fill="#41a5de"/>
<rect x="288.77" y="187.85" width="2.68" height="2.15" fill="#42a5de"/>
<rect x="290.74" y="187.85" width="2.68" height="2.15" fill="#42a6de"/>
<rect x="292.72" y="187.85" width="1.98" height="2.15" fill="#42a6df"/>
<rect x="259.10" y="189.30" width="2.68" height="2.15" fill="#3776ce"/>
<rect x="261.08" y="189.30" width="2.68" height="2.15" fill="#3776cd"/>
<rect x="263.06" y="189.30" width="2.68" height="2.15" fill="#3774cd"/>
<rect x="265.03" y="189.30" width="2.68" height="2.15" fill="#3772cb"/>
<rect x="267.01" y="189.30" width="2.68" height="2.15" fill="#3771cb"/>
<rect x="268.99" y="189.30" width="2.68" height="2.15" fill="#3770cb"/>
<rect x="270.97" y="189.30" width="2.68" height="2.15" fill="#366cc9"/>
<rect x="272.94" y="189.30" width="2.68" height="2.15" fill="#366ac8"/>
<rect x="274.92" y="189.30" width="2.68" height="2.15" fill="#3669c7"/>
<rect x="276.90" y="189.30" width="2.68" height="2.15" fill="#366bc8"/>
<rect x="278.88" y="189.30" width="2.68" height="2.15" fill="#376fca"/>
<rect x="280.86" y="189.30" width="2.68" height="2.15" fill="#3774cc"/>
<rect x="282.83" y="189.30" width="2.68" height="2.15" fill="#3777ce"/>
<rect x="284.81" y="189.30" width="2.68" height="2.15" fill="#40a1dd"/>
<rect x="286.79" y="189.30" width="2.68" height="2.15" fill="#43aadf"/>
<rect x="288.77" y="189.30" width="2.68" height="2.15" fill="#43aae0"/>
<rect x="290.74" y="189.30" width="2.68" height="2.15" fill="#43abe0"/>
<rect x="292.72" y="189.30" width="1.98" height="2.15" fill="#44abe0"/>
<rect x="259.10" y="190.75" width="2.68" height="2.15" fill="#3a92da"/>
<rect x="261.08" y="190.75" width="2.68" height="2.15" fill="#3a92d9"/>
<rect x="263.06" y="190.75" width="2.68" height="2.15" fill="#3a91d9"/>
<rect x="265.03" y="190.75" width="2.68" height="2.15" fill="#3990d9"/>
<rect x="267.01" y="190.75" width="2.68" height="2.15" fill="#398fd9"/>
<rect x="268.99" y="190.75" width="2.68" height="2.15" fill="#388dd8"/>
<rect x="270.97" y="190.75" width="2.68" height="2.15" fill="#388bd7"/>
<rect x="272.94" y="190.75" width="4.66" height="2.15" fill="#3889d7"/>
<rect x="276.90" y="190.75" width="2.68" height="2.15" fill="#388bd7"/>
<rect x="278.88" y="190.75" width="2.68" height="2.15" fill="#388dd8"/>
<rect x="280.86" y="190.75" width="2.68" height="2.15" fill="#398fd9"/>
<rect x="282.83" y="190.75" width="2.68" height="2.15" fill="#3a91d9"/>
<rect x="284.81" y="190.75" width="2.68" height="2.15" fill="#43a9df"/>
<rect x="286.79" y="190.75" width="2.68" height="2.15" fill="#46aedd"/>
<rect x="288.77" y="190.75" width="4.66" height="2.15" fill="#46aedc"/>
<rect x="292.72" y="190.75" width="1.98" height="2.15" fill="#47aedc"/>
<rect x="259.10" y="192.20" width="4.66" height="2.15" fill="#3f9fdd"/>
<rect x="263.06" y="192.20" width="2.68" height="2.15" fill="#3f9edd"/>
<rect x="265.03" y="192.20" width="2.68" height="2.15" fill="#3f9edc"/>
<rect x="267.01" y="192.20" width="2.68" height="2.15" fill="#3e9ddc"/>
<rect x="268.99" y="192.20" width="2.68" height="2.15" fill="#3e9bdc"/>
<rect x="270.97" y="192.20" width="2.68" height="2.15" fill="#3d9adc"/>
<rect x="272.94" y="192.20" width="4.66" height="2.15" fill="#3d9adb"/>
<rect x="276.90" y="192.20" width="2.68" height="2.15" fill="#3d9adc"/>
<rect x="278.88" y="192.20" width="2.68" height="2.15" fill="#3e9bdc"/>
<rect x="280.86" y="192.20" width="2.68" height="2.15" fill="#3e9cdc"/>
<rect x="282.83" y="192.20" width="2.68" height="2.15" fill="#3f9ddc"/>
<rect x="284.81" y="192.20" width="2.68" height="2.15" fill="#47aedb"/>
<rect x="286.79" y="192.20" width="2.68" height="2.15" fill="#4ab1d5"/>
<rect x="288.77" y="192.20" width="5.93" height="2.15" fill="#4bb1d5"/>
<rect x="259.10" y="193.65" width="2.68" height="1.45" fill="#42a8df"/>
<rect x="261.08" y="193.65" width="6.63" height="1.45" fill="#42a7df"/>
<rect x="267.01" y="193.65" width="2.68" height="1.45" fill="#42a6df"/>
<rect x="268.99" y="193.65" width="2.68" height="1.45" fill="#42a6de"/>
<rect x="270.97" y="193.65" width="2.68" height="1.45" fill="#42a5de"/>
<rect x="272.94" y="193.65" width="6.63" height="1.45" fill="#41a5de"/>
<rect x="278.88" y="193.65" width="2.68" height="1.45" fill="#42a6de"/>
<rect x="280.86" y="193.65" width="2.68" height="1.45" fill="#42a6df"/>
<rect x="282.83" y="193.65" width="2.68" height="1.45" fill="#42a7df"/>
<rect x="284.81" y="193.65" width="2.68" height="1.45" fill="#4db3d1"/>
<rect x="286.79" y="193.65" width="2.68" height="1.45" fill="#50b5cd"/>
<rect x="288.77" y="193.65" width="5.93" height="1.45" fill="#50b5cc"/>
<rect x="304.50" y="157.40" width="8.61" height="2.15" fill="#f39620"/>
<rect x="312.41" y="157.40" width="2.68" height="2.15" fill="#f4c024"/>
<rect x="314.39" y="157.40" width="14.54" height="2.15" fill="#eee031"/>
<rect x="328.23" y="157.40" width="2.68" height="2.15" fill="#f1d42c"/>
<rect x="330.21" y="157.40" width="2.68" height="2.15" fill="#f49720"/>
<rect x="332.19" y="157.40" width="7.91" height="2.15" fill="#f38a20"/>
<rect x="304.50" y="158.85" width="8.61" height="2.15" fill="#f4a120"/>
<rect x="312.41" y="158.85" width="2.68" height="2.15" fill="#f3c626"/>
<rect x="314.39" y="158.85" width="14.54" height="2.15" fill="#eadf33"/>
<rect x="328.23" y="158.85" width="2.68" height="2.15" fill="#f1d82d"/>
<rect x="330.21" y="158.85" width="2.68" height="2.15" fill="#f4a220"/>
<rect x="332.19" y="158.85" width="7.91" height="2.15" fill="#f39520"/>
<rect x="304.50" y="160.30" width="8.61" height="2.15" fill="#f5b020"/>
<rect x="312.41" y="160.30" width="2.68" height="2.15" fill="#f2cc29"/>
<rect x="314.39" y="160.30" width="14.54" height="2.15" fill="#e6de34"/>
<rect x="328.23" y="160.30" width="2.68" height="2.15" fill="#f0dc2f"/>
<rect x="330.21" y="160.30" width="2.68" height="2.15" fill="#f5ae20"/>
<rect x="332.19" y="160.30" width="7.91" height="2.15" fill="#f4a420"/>
<rect x="304.50" y="161.75" width="8.61" height="2.15" fill="#f4bd23"/>
<rect x="312.41" y="161.75" width="2.68" height="2.15" fill="#f1d82d"/>
<rect x="314.39" y="161.75" width="14.54" height="2.15" fill="#d9dc3a"/>
<rect x="328.23" y="161.75" width="2.68" height="2.15" fill="#e7de34"/>
<rect x="330.21" y="161.75" width="2.68" height="2.15" fill="#f4bc23"/>
<rect x="332.19" y="161.75" width="7.91" height="2.15" fill="#f5b520"/>
<rect x="304.50" y="163.20" width="8.61" height="2.15" fill="#f3c827"/>
<rect x="312.41" y="163.20" width="2.68" height="2.15" fill="#ecdf32"/>
<rect x="314.39" y="163.20" width="14.54" height="2.15" fill="#c9d941"/>
<rect x="328.23" y="163.20" width="2.68" height="2.15" fill="#d7dc3b"/>
<rect x="330.21" y="163.20" width="2.68" height="2.15" fill="#f3c827"/>
<rect x="332.19" y="163.20" width="7.91" height="2.15" fill="#f4c024"/>
<rect x="304.50" y="164.65" width="8.61" height="2.15" fill="#f2ce2a"/>
<rect x="312.41" y="164.65" width="2.68" height="2.15" fill="#dfdd37"/>
<rect x="314.39" y="164.65" width="14.54" height="2.15" fill="#b8d648"/>
<rect x="328.23" y="164.65" width="2.68" height="2.15" fill="#c7d941"/>
<rect x="330.21" y="164.65" width="2.68" height="2.15" fill="#f2d22b"/>
<rect x="332.19" y="164.65" width="7.91" height="2.15" fill="#f3ca28"/>
<rect x="304.50" y="166.10" width="8.61" height="2.15" fill="#f1d52c"/>
<rect x="312.41" y="166.10" width="2.68" height="2.15" fill="#d3db3c"/>
<rect x="314.39" y="166.10" width="14.54" height="2.15" fill="#aad256"/>
<rect x="328.23" y="166.10" width="2.68" height="2.15" fill="#b8d648"/>
<rect x="330.21" y="166.10" width="2.68" height="2.15" fill="#f0dc2f"/>
<rect x="332.19" y="166.10" width="7.91" height="2.15" fill="#f1d32b"/>
<rect x="304.50" y="167.55" width="8.61" height="2.15" fill="#f1db2e"/>
<rect x="312.41" y="167.55" width="2.68" height="2.15" fill="#c7d942"/>
<rect x="314.39" y="167.55" width="14.54" height="2.15" fill="#9cce64"/>
<rect x="328.23" y="167.55" width="2.68" height="2.15" fill="#abd255"/>
<rect x="330.21" y="167.55" width="2.68" height="2.15" fill="#eadf32"/>
<rect x="332.19" y="167.55" width="7.91" height="2.15" fill="#f1db2e"/>
<rect x="304.50" y="169.00" width="8.61" height="2.15" fill="#eee031"/>
<rect x="312.41" y="169.00" width="2.68" height="2.15" fill="#bbd747"/>
<rect x="314.39" y="169.00" width="14.54" height="2.15" fill="#8eca72"/>
<rect x="328.23" y="169.00" width="2.68" height="2.15" fill="#9ecf62"/>
<rect x="330.21" y="169.00" width="2.68" height="2.15" fill="#e1dd36"/>
<rect x="332.19" y="169.00" width="7.91" height="2.15" fill="#eee031"/>
<rect x="304.50" y="170.45" width="8.61" height="2.15" fill="#e6de34"/>
<rect x="312.41" y="170.45" width="2.68" height="2.15" fill="#afd351"/>
<rect x="314.39" y="170.45" width="14.54" height="2.15" fill="#7fc685"/>
<rect x="328.23" y="170.45" width="2.68" height="2.15" fill="#90ca70"/>
<rect x="330.21" y="170.45" width="2.68" height="2.15" fill="#d8dc3a"/>
<rect x="332.19" y="170.45" width="7.91" height="2.15" fill="#e6de34"/>
<rect x="304.50" y="171.90" width="8.61" height="2.15" fill="#c9d941"/>
<rect x="312.41" y="171.90" width="2.68" height="2.15" fill="#99cd67"/>
<rect x="314.39" y="171.90" width="14.54" height="2.15" fill="#6ec29e"/>
<rect x="328.23" y="171.90" width="2.68" height="2.15" fill="#7dc688"/>
<rect x="330.21" y="171.90" width="2.68" height="2.15" fill="#bcd746"/>
<rect x="332.19" y="171.90" width="7.91" height="2.15" fill="#c9d941"/>
<rect x="304.50" y="173.35" width="8.61" height="2.15" fill="#afd351"/>
<rect x="312.41" y="173.35" width="2.68" height="2.15" fill="#86c87b"/>
<rect x="314.39" y="173.35" width="6.63" height="2.15" fill="#60bfb2"/>
<rect x="320.32" y="173.35" width="4.66" height="2.15" fill="#60bfb3"/>
<rect x="324.28" y="173.35" width="4.66" height="2.15" fill="#60bfb2"/>
<rect x="328.23" y="173.35" width="2.68" height="2.15" fill="#6ec29e"/>
<rect x="330.21" y="173.35" width="2.68" height="2.15" fill="#a5d05b"/>
<rect x="332.19" y="173.35" width="7.91" height="2.15" fill="#afd351"/>
<rect x="304.50" y="174.80" width="8.61" height="2.15" fill="#9dce63"/>
<rect x="312.41" y="174.80" width="2.68" height="2.15" fill="#78c48f"/>
<rect x="314.39" y="174.80" width="4.66" height="2.15" fill="#58bbbe"/>
<rect x="318.34" y="174.80" width="8.61" height="2.15" fill="#58bbbf"/>
<rect x="326.26" y="174.80" width="2.68" height="2.15" fill="#58bbbe"/>
<rect x="328.23" y="174.80" width="2.68" height="2.15" fill="#62bfb0"/>
<rect x="330.21" y="174.80" width="2.68" height="2.15" fill="#93cb6d"/>
<rect x="332.19" y="174.80" width="7.91" height="2.15" fill="#9dce63"/>
<rect x="304.50" y="176.25" width="8.61" height="2.15" fill="#91cb6f"/>
<rect x="312.41" y="176.25" width="2.68" height="2.15" fill="#6ec29e"/>
<rect x="314.39" y="176.25" width="4.66" height="2.15" fill="#53b7c7"/>
<rect x="318.34" y="176.25" width="2.68" height="2.15" fill="#53b7c8"/>
<rect x="320.32" y="176.25" width="4.66" height="2.15" fill="#52b7c8"/>
<rect x="324.28" y="176.25" width="2.68" height="2.15" fill="#53b7c8"/>
<rect x="326.26" y="176.25" width="2.68" height="2.15" fill="#53b7c7"/>
<rect x="328.23" y="176.25" width="2.68" height="2.15" fill="#5abcbb"/>
<rect x="330.21" y="176.25" width="2.68" height="2.15" fill="#87c879"/>
<rect x="332.19" y="176.25" width="7.91" height="2.15" fill="#91cb6f"/>
<rect x="304.50" y="177.70" width="8.61" height="2.15" fill="#8eca72"/>
<rect x="312.41" y="177.70" width="2.68" height="2.15" fill="#6ac1a4"/>
<rect x="314.39" y="177.70" width="2.68" height="2.15" fill="#50b5cd"/>
<rect x="316.37" y="177.70" width="2.68" height="2.15" fill="#4fb4ce"/>
<rect x="318.34" y="177.70" width="2.68" height="2.15" fill="#4db3d0"/>
<rect x="320.32" y="177.70" width="4.66" height="2.15" fill="#4cb2d2"/>
<rect x="324.28" y="177.70" width="2.68" height="2.15" fill="#4db3d0"/>
<rect x="326.26" y="177.70" width="2.68" height="2.15" fill="#4fb4ce"/>
<rect x="328.23" y="177.70" width="2.68" height="2.15" fill="#57bac1"/>
<rect x="330.21" y="177.70" width="2.68" height="2.15" fill="#85c77d"/>
<rect x="332.19" y="177.70" width="7.91" height="2.15" fill="#8eca72"/>
<rect x="304.50" y="179.15" width="8.61" height="2.15" fill="#8cc974"/>
<rect x="312.41" y="179.15" width="2.68" height="2.15" fill="#66c0a9"/>
<rect x="314.39" y="179.15" width="2.68" height="2.15" fill="#4db3d2"/>
<rect x="316.37" y="179.15" width="2.68" height="2.15" fill="#4bb1d5"/>
<rect x="318.34" y="179.15" width="2.68" height="2.15" fill="#48afd9"/>
<rect x="320.32" y="179.15" width="4.66" height="2.15" fill="#45adde"/>
<rect x="324.28" y="179.15" width="2.68" height="2.15" fill="#48afd9"/>
<rect x="326.26" y="179.15" width="2.68" height="2.15" fill="#4bb1d5"/>
<rect x="328.23" y="179.15" width="2.68" height="2.15" fill="#54b8c5"/>
<rect x="330.21" y="179.15" width="2.68" height="2.15" fill="#82c781"/>
<rect x="332.19" y="179.15" width="7.91" height="2.15" fill="#8cc974"/>
<rect x="304.50" y="180.60" width="4.66" height="2.15" fill="#8ac976"/>
<rect x="308.46" y="180.60" width="4.66" height="2.15" fill="#8ac876"/>
<rect x="312.41" y="180.60" width="2.68" height="2.15" fill="#65c0ab"/>
<rect x="314.39" y="180.60" width="2.68" height="2.15" fill="#4cb2d2"/>
<rect x="316.37" y="180.60" width="2.68" height="2.15" fill="#49b0d7"/>
<rect x="318.34" y="180.60" width="2.68" height="2.15" fill="#45adde"/>
<rect x="320.32" y="180.60" width="4.66" height="2.15" fill="#43a8df"/>
<rect x="324.28" y="180.60" width="2.68" height="2.15" fill="#45adde"/>
<rect x="326.26" y="180.60" width="2.68" height="2.15" fill="#49b0d7"/>
<rect x="328.23" y="180.60" width="2.68" height="2.15" fill="#53b7c7"/>
<rect x="330.21" y="180.60" width="2.68" height="2.15" fill="#80c684"/>
<rect x="332.19" y="180.60" width="4.66" height="2.15" fill="#8ac876"/>
<rect x="336.14" y="180.60" width="3.96" height="2.15" fill="#8ac976"/>
<rect x="304.50" y="182.05" width="8.61" height="2.15" fill="#88c878"/>
<rect x="312.41" y="182.05" width="2.68" height="2.15" fill="#64c0ac"/>
<rect x="314.39" y="182.05" width="2.68" height="2.15" fill="#4cb2d3"/>
<rect x="316.37" y="182.05" width="2.68" height="2.15" fill="#49b0d8"/>
<rect x="318.34" y="182.05" width="2.68" height="2.15" fill="#44ace0"/>
<rect x="320.32" y="182.05" width="4.66" height="2.15" fill="#42a7df"/>
<rect x="324.28" y="182.05" width="2.68" height="2.15" fill="#44ace0"/>
<rect x="326.26" y="182.05" width="2.68" height="2.15" fill="#49b0d8"/>
<rect x="328.23" y="182.05" width="2.68" height="2.15" fill="#53b7c7"/>
<rect x="330.21" y="182.05" width="2.68" height="2.15" fill="#7fc686"/>
<rect x="332.19" y="182.05" width="7.91" height="2.15" fill="#88c878"/>
<rect x="304.50" y="183.50" width="8.61" height="2.15" fill="#88c878"/>
<rect x="312.41" y="183.50" width="2.68" height="2.15" fill="#64c0ac"/>
<rect x="314.39" y="183.50" width="2.68" height="2.15" fill="#4cb2d2"/>
<rect x="316.37" y="183.50" width="2.68" height="2.15" fill="#4ab1d6"/>
<rect x="318.34" y="183.50" width="2.68" height="2.15" fill="#46aedc"/>
<rect x="320.32" y="183.50" width="4.66" height="2.15" fill="#44abe0"/>
<rect x="324.28" y="183.50" width="2.68" height="2.15" fill="#46aedc"/>
<rect x="326.26" y="183.50" width="2.68" height="2.15" fill="#4ab1d6"/>
<rect x="328.23" y="183.50" width="2.68" height="2.15" fill="#53b8c6"/>
<rect x="330.21" y="183.50" width="2.68" height="2.15" fill="#7fc686"/>
<rect x="332.19" y="183.50" width="7.91" height="2.15" fill="#88c878"/>
<rect x="304.50" y="184.95" width="8.61" height="2.15" fill="#88c878"/>
<rect x="312.41" y="184.95" width="2.68" height="2.15" fill="#65c0ac"/>
<rect x="314.39" y="184.95" width="2.68" height="2.15" fill="#4db3d1"/>
<rect x="316.37" y="184.95" width="2.68" height="2.15" fill="#4cb2d3"/>
<rect x="318.34" y="184.95" width="2.68" height="2.15" fill="#4ab0d7"/>
<rect x="320.32" y="184.95" width="4.66" height="2.15" fill="#48afda"/>
<rect x="324.28" y="184.95" width="2.68" height="2.15" fill="#4ab0d7"/>
<rect x="326.26" y="184.95" width="2.68" height="2.15" fill="#4cb2d3"/>
<rect x="328.23" y="184.95" width="2.68" height="2.15" fill="#54b8c6"/>
<rect x="330.21" y="184.95" width="2.68" height="2.15" fill="#7fc685"/>
<rect x="332.19" y="184.95" width="7.91" height="2.15" fill="#88c878"/>
<rect x="304.50" y="186.40" width="8.61" height="2.15" fill="#88c878"/>
<rect x="312.41" y="186.40" width="2.68" height="2.15" fill="#65c0ab"/>
<rect x="314.39" y="186.40" width="2.68" height="2.15" fill="#4db3d0"/>
<rect x="316.37" y="186.40" width="2.68" height="2.15" fill="#4db3d1"/>
<rect x="318.34" y="186.40" width="2.68" height="2.15" fill="#4cb2d3"/>
<rect x="320.32" y="186.40" width="4.66" height="2.15" fill="#4bb2d4"/>
<rect x="324.28" y="186.40" width="2.68" height="2.15" fill="#4cb2d3"/>
<rect x="326.26" y="186.40" width="2.68" height="2.15" fill="#4db3d1"/>
<rect x="328.23" y="186.40" width="2.68" height="2.15" fill="#54b8c5"/>
<rect x="330.21" y="186.40" width="2.68" height="2.15" fill="#7fc685"/>
<rect x="332.19" y="186.40" width="7.91" height="2.15" fill="#88c878"/>
<rect x="304.50" y="187.85" width="8.61" height="2.15" fill="#88c878"/>
<rect x="312.41" y="187.85" width="2.68" height="2.15" fill="#68c1a6"/>
<rect x="314.39" y="187.85" width="6.63" height="2.15" fill="#51b6ca"/>
<rect x="320.32" y="187.85" width="4.66" height="2.15" fill="#51b6cb"/>
<rect x="324.28" y="187.85" width="4.66" height="2.15" fill="#51b6ca"/>
<rect x="328.23" y="187.85" width="2.68" height="2.15" fill="#58bbbf"/>
<rect x="330.21" y="187.85" width="2.68" height="2.15" fill="#80c684"/>
<rect x="332.19" y="187.85" width="7.91" height="2.15" fill="#88c878"/>
<rect x="304.50" y="189.30" width="8.61" height="2.15" fill="#8ac976"/>
<rect x="312.41" y="189.30" width="2.68" height="2.15" fill="#6dc29f"/>
<rect x="314.39" y="189.30" width="14.54" height="2.15" fill="#56b9c2"/>
<rect x="328.23" y="189.30" width="2.68" height="2.15" fill="#5cbeb9"/>
<rect x="330.21" y="189.30" width="2.68" height="2.15" fill="#83c780"/>
<rect x="332.19" y="189.30" width="7.91" height="2.15" fill="#8ac976"/>
<rect x="304.50" y="190.75" width="8.61" height="2.15" fill="#8fca71"/>
<rect x="312.41" y="190.75" width="2.68" height="2.15" fill="#74c395"/>
<rect x="314.39" y="190.75" width="14.54" height="2.15" fill="#5abdbb"/>
<rect x="328.23" y="190.75" width="2.68" height="2.15" fill="#63c0ae"/>
<rect x="330.21" y="190.75" width="2.68" height="2.15" fill="#88c878"/>
<rect x="332.19" y="190.75" width="7.91" height="2.15" fill="#8fca71"/>
<rect x="304.50" y="192.20" width="8.61" height="2.15" fill="#94cb6c"/>
<rect x="312.41" y="192.20" width="2.68" height="2.15" fill="#7ac58c"/>
<rect x="314.39" y="192.20" width="14.54" height="2.15" fill="#61bfb0"/>
<rect x="328.23" y="192.20" width="2.68" height="2.15" fill="#6ac1a3"/>
<rect x="330.21" y="192.20" width="2.68" height="2.15" fill="#8dc973"/>
<rect x="332.19" y="192.20" width="7.91" height="2.15" fill="#94cb6c"/>
<rect x="304.50" y="193.65" width="8.61" height="1.45" fill="#99cd67"/>
<rect x="312.41" y="193.65" width="2.68" height="1.45" fill="#80c683"/>
<rect x="314.39" y="193.65" width="14.54" height="1.45" fill="#6ac1a4"/>
<rect x="328.23" y="193.65" width="2.68" height="1.45" fill="#72c398"/>
<rect x="330.21" y="193.65" width="2.68" height="1.45" fill="#93cb6d"/>
<rect x="332.19" y="193.65" width="7.91" height="1.45" fill="#99cd67"/>
<rect x="214.40" y="205.30" width="20.48" height="2.15" fill="#dc2d1d"/>
<rect x="234.18" y="205.30" width="2.68" height="2.15" fill="#db2d1d"/>
<rect x="236.16" y="205.30" width="2.68" height="2.15" fill="#d0231b"/>
<rect x="238.13" y="205.30" width="2.68" height="2.15" fill="#c31a19"/>
<rect x="240.11" y="205.30" width="9.89" height="2.15" fill="#c21918"/>
<rect x="214.40" y="206.75" width="20.48" height="2.15" fill="#dd2f1d"/>
<rect x="234.18" y="206.75" width="2.68" height="2.15" fill="#dc2e1d"/>
<rect x="236.16" y="206.75" width="2.68" height="2.15" fill="#d3241b"/>
<rect x="238.13" y="206.75" width="2.68" height="2.15" fill="#c71d19"/>
<rect x="240.11" y="206.75" width="9.89" height="2.15" fill="#c61c19"/>
<rect x="214.40" y="208.20" width="20.48" height="2.15" fill="#de301d"/>
<rect x="234.18" y="208.20" width="2.68" height="2.15" fill="#dd2f1d"/>
<rect x="236.16" y="208.20" width="2.68" height="2.15" fill="#d5261c"/>
<rect x="238.13" y="208.20" width="2.68" height="2.15" fill="#cb201a"/>
<rect x="240.11" y="208.20" width="9.89" height="2.15" fill="#ca1f1a"/>
<rect x="214.40" y="209.65" width="20.48" height="2.15" fill="#df311d"/>
<rect x="234.18" y="209.65" width="2.68" height="2.15" fill="#de301d"/>
<rect x="236.16" y="209.65" width="2.68" height="2.15" fill="#d8281c"/>
<rect x="238.13" y="209.65" width="2.68" height="2.15" fill="#d0231b"/>
<rect x="240.11" y="209.65" width="9.89" height="2.15" fill="#cf221b"/>
<rect x="214.40" y="211.10" width="22.46" height="2.15" fill="#e2351e"/>
<rect x="236.16" y="211.10" width="2.68" height="2.15" fill="#de311d"/>
<rect x="238.13" y="211.10" width="2.68" height="2.15" fill="#db2d1d"/>
<rect x="240.11" y="211.10" width="9.89" height="2.15" fill="#db2c1d"/>
<rect x="214.40" y="212.55" width="20.48" height="2.15" fill="#e93f20"/>
<rect x="234.18" y="212.55" width="2.68" height="2.15" fill="#e93e20"/>
<rect x="236.16" y="212.55" width="2.68" height="2.15" fill="#e73c1f"/>
<rect x="238.13" y="212.55" width="11.87" height="2.15" fill="#e5391f"/>
<rect x="214.40" y="214.00" width="22.46" height="2.15" fill="#ed5720"/>
<rect x="236.16" y="214.00" width="2.68" height="2.15" fill="#ed5520"/>
<rect x="238.13" y="214.00" width="11.87" height="2.15" fill="#ed5320"/>
<rect x="214.40" y="215.45" width="35.60" height="2.15" fill="#f27a20"/>
<rect x="214.40" y="216.90" width="35.60" height="2.15" fill="#f4a720"/>
<rect x="214.40" y="218.35" width="35.60" height="2.15" fill="#f2ce2a"/>
<rect x="214.40" y="219.80" width="35.60" height="2.15" fill="#c6d842"/>
<rect x="214.40" y="221.25" width="35.60" height="2.15" fill="#7cc589"/>
<rect x="214.40" y="222.70" width="35.60" height="2.15" fill="#50b5cc"/>
<rect x="214.40" y="224.15" width="35.60" height="2.15" fill="#41a5de"/>
<rect x="214.40" y="225.60" width="20.48" height="2.15" fill="#3885d5"/>
<rect x="234.18" y="225.60" width="2.68" height="2.15" fill="#3886d5"/>
<rect x="236.16" y="225.60" width="2.68" height="2.15" fill="#388cd8"/>
<rect x="238.13" y="225.60" width="2.68" height="2.15" fill="#3a92d9"/>
<rect x="240.11" y="225.60" width="9.89" height="2.15" fill="#3a92da"/>
<rect x="214.40" y="227.05" width="20.48" height="2.15" fill="#365cc0"/>
<rect x="234.18" y="227.05" width="2.68" height="2.15" fill="#365dc0"/>
<rect x="236.16" y="227.05" width="2.68" height="2.15" fill="#376eca"/>
<rect x="238.13" y="227.05" width="2.68" height="2.15" fill="#3882d3"/>
<rect x="240.11" y="227.05" width="9.89" height="2.15" fill="#3884d4"/>
<rect x="214.40" y="228.50" width="20.48" height="2.15" fill="#355bbf"/>
<rect x="234.18" y="228.50" width="2.68" height="2.15" fill="#365cbf"/>
<rect x="236.16" y="228.50" width="2.68" height="2.15" fill="#376dc9"/>
<rect x="238.13" y="228.50" width="2.68" height="2.15" fill="#3882d3"/>
<rect x="240.11" y="228.50" width="9.89" height="2.15" fill="#3884d4"/>
<rect x="214.40" y="229.95" width="20.48" height="2.15" fill="#355abe"/>
<rect x="234.18" y="229.95" width="2.68" height="2.15" fill="#355bbf"/>
<rect x="236.16" y="229.95" width="2.68" height="2.15" fill="#366cc9"/>
<rect x="238.13" y="229.95" width="2.68" height="2.15" fill="#3781d3"/>
<rect x="240.11" y="229.95" width="9.89" height="2.15" fill="#3884d4"/>
<rect x="214.40" y="231.40" width="20.48" height="2.15" fill="#3559bd"/>
<rect x="234.18" y="231.40" width="2.68" height="2.15" fill="#355abe"/>
<rect x="236.16" y="231.40" width="2.68" height="2.15" fill="#366bc8"/>
<rect x="238.13" y="231.40" width="2.68" height="2.15" fill="#3781d3"/>
<rect x="240.11" y="231.40" width="9.89" height="2.15" fill="#3884d4"/>
<rect x="214.40" y="232.85" width="20.48" height="2.15" fill="#3558bc"/>
<rect x="234.18" y="232.85" width="2.68" height="2.15" fill="#3559bd"/>
<rect x="236.16" y="232.85" width="2.68" height="2.15" fill="#366ac8"/>
<rect x="238.13" y="232.85" width="2.68" height="2.15" fill="#3781d3"/>
<rect x="240.11" y="232.85" width="9.89" height="2.15" fill="#3884d4"/>
<rect x="214.40" y="234.30" width="22.46" height="2.15" fill="#3781d3"/>
<rect x="236.16" y="234.30" width="2.68" height="2.15" fill="#388ad7"/>
<rect x="238.13" y="234.30" width="2.68" height="2.15" fill="#3a91d9"/>
<rect x="240.11" y="234.30" width="9.89" height="2.15" fill="#3a92d9"/>
<rect x="214.40" y="235.75" width="22.46" height="2.15" fill="#3d9adc"/>
<rect x="236.16" y="235.75" width="2.68" height="2.15" fill="#3e9cdc"/>
<rect x="238.13" y="235.75" width="11.87" height="2.15" fill="#3e9ddc"/>
<rect x="214.40" y="237.20" width="35.60" height="2.15" fill="#45adde"/>
<rect x="214.40" y="238.65" width="35.60" height="2.15" fill="#56b9c2"/>
<rect x="214.40" y="240.10" width="35.60" height="2.15" fill="#77c491"/>
<rect x="214.40" y="241.55" width="35.60" height="1.45" fill="#a2d05e"/>
<rect x="259.10" y="205.30" width="6.63" height="2.15" fill="#e73c1f"/>
<rect x="265.03" y="205.30" width="2.68" height="2.15" fill="#ea4020"/>
<rect x="267.01" y="205.30" width="2.68" height="2.15" fill="#eb4a20"/>
<rect x="268.99" y="205.30" width="2.68" height="2.15" fill="#ed5520"/>
<rect x="270.97" y="205.30" width="2.68" height="2.15" fill="#ef6020"/>
<rect x="272.94" y="205.30" width="2.68" height="2.15" fill="#f06b20"/>
<rect x="274.92" y="205.30" width="2.68" height="2.15" fill="#f27520"/>
<rect x="276.90" y="205.30" width="2.68" height="2.15" fill="#f17420"/>
<rect x="278.88" y="205.30" width="2.68" height="2.15" fill="#f06820"/>
<rect x="280.86" y="205.30" width="2.68" height="2.15" fill="#ee5b20"/>
<rect x="282.83" y="205.30" width="2.68" height="2.15" fill="#ec4f20"/>
<rect x="284.81" y="205.30" width="2.68" height="2.15" fill="#ea4220"/>
<rect x="286.79" y="205.30" width="7.91" height="2.15" fill="#e73c1f"/>
<rect x="259.10" y="206.75" width="6.63" height="2.15" fill="#e83e20"/>
<rect x="265.03" y="206.75" width="2.68" height="2.15" fill="#eb4420"/>
<rect x="267.01" y="206.75" width="2.68" height="2.15" fill="#ec4f20"/>
<rect x="268.99" y="206.75" width="2.68" height="2.15" fill="#ee5a20"/>
<rect x="270.97" y="206.75" width="2.68" height="2.15" fill="#ef6520"/>
<rect x="272.94" y="206.75" width="2.68" height="2.15" fill="#f17020"/>
<rect x="274.92" y="206.75" width="2.68" height="2.15" fill="#f27b20"/>
<rect x="276.90" y="206.75" width="2.68" height="2.15" fill="#f27a20"/>
<rect x="278.88" y="206.75" width="2.68" height="2.15" fill="#f06d20"/>
<rect x="280.86" y="206.75" width="2.68" height="2.15" fill="#ef6020"/>
<rect x="282.83" y="206.75" width="2.68" height="2.15" fill="#ed5320"/>
<rect x="284.81" y="206.75" width="2.68" height="2.15" fill="#eb4620"/>
<rect x="286.79" y="206.75" width="7.91" height="2.15" fill="#e83e20"/>
<rect x="259.10" y="208.20" width="6.63" height="2.15" fill="#ea4020"/>
<rect x="265.03" y="208.20" width="2.68" height="2.15" fill="#eb4820"/>
<rect x="267.01" y="208.20" width="2.68" height="2.15" fill="#ed5320"/>
<rect x="268.99" y="208.20" width="2.68" height="2.15" fill="#ee5e20"/>
<rect x="270.97" y="208.20" width="2.68" height="2.15" fill="#f06a20"/>
<rect x="272.94" y="208.20" width="2.68" height="2.15" fill="#f27520"/>
<rect x="274.92" y="208.20" width="2.68" height="2.15" fill="#f28020"/>
<rect x="276.90" y="208.20" width="2.68" height="2.15" fill="#f27f20"/>
<rect x="278.88" y="208.20" width="2.68" height="2.15" fill="#f17220"/>
<rect x="280.86" y="208.20" width="2.68" height="2.15" fill="#ef6520"/>
<rect x="282.83" y="208.20" width="2.68" height="2.15" fill="#ed5820"/>
<rect x="284.81" y="208.20" width="2.68" height="2.15" fill="#ec4b20"/>
<rect x="286.79" y="208.20" width="7.91" height="2.15" fill="#ea4020"/>
<rect x="259.10" y="209.65" width="6.63" height="2.15" fill="#ea4320"/>
<rect x="265.03" y="209.65" width="2.68" height="2.15" fill="#ec4c20"/>
<rect x="267.01" y="209.65" width="2.68" height="2.15" fill="#ed5820"/>
<rect x="268.99" y="209.65" width="2.68" height="2.15" fill="#ef6320"/>
<rect x="270.97" y="209.65" width="2.68" height="2.15" fill="#f16e20"/>
<rect x="272.94" y="209.65" width="2.68" height="2.15" fill="#f27a20"/>
<rect x="274.92" y="209.65" width="2.68" height="2.15" fill="#f38620"/>
<rect x="276.90" y="209.65" width="2.68" height="2.15" fill="#f38520"/>
<rect x="278.88" y="209.65" width="2.68" height="2.15" fill="#f27720"/>
<rect x="280.86" y="209.65" width="2.68" height="2.15" fill="#f06a20"/>
<rect x="282.83" y="209.65" width="2.68" height="2.15" fill="#ee5c20"/>
<rect x="284.81" y="209.65" width="2.68" height="2.15" fill="#ec4f20"/>
<rect x="286.79" y="209.65" width="7.91" height="2.15" fill="#ea4320"/>
<rect x="259.10" y="211.10" width="6.63" height="2.15" fill="#eb4720"/>
<rect x="265.03" y="211.10" width="2.68" height="2.15" fill="#ed5220"/>
<rect x="267.01" y="211.10" width="2.68" height="2.15" fill="#ee5f20"/>
<rect x="268.99" y="211.10" width="2.68" height="2.15" fill="#f06c20"/>
<rect x="270.97" y="211.10" width="2.68" height="2.15" fill="#f27920"/>
<rect x="272.94" y="211.10" width="2.68" height="2.15" fill="#f38720"/>
<rect x="274.92" y="211.10" width="2.68" height="2.15" fill="#f39620"/>
<rect x="276.90" y="211.10" width="2.68" height="2.15" fill="#f39420"/>
<rect x="278.88" y="211.10" width="2.68" height="2.15" fill="#f38420"/>
<rect x="280.86" y="211.10" width="2.68" height="2.15" fill="#f17420"/>
<rect x="282.83" y="211.10" width="2.68" height="2.15" fill="#ef6420"/>
<rect x="284.81" y="211.10" width="2.68" height="2.15" fill="#ed5520"/>
<rect x="286.79" y="211.10" width="7.91" height="2.15" fill="#eb4720"/>
<rect x="259.10" y="212.55" width="6.63" height="2.15" fill="#ec4b20"/>
<rect x="265.03" y="212.55" width="2.68" height="2.15" fill="#ee5a20"/>
<rect x="267.01" y="212.55" width="2.68" height="2.15" fill="#f06c20"/>
<rect x="268.99" y="212.55" width="2.68" height="2.15" fill="#f27f20"/>
<rect x="270.97" y="212.55" width="2.68" height="2.15" fill="#f39220"/>
<rect x="272.94" y="212.55" width="2.68" height="2.15" fill="#f4a620"/>
<rect x="274.92" y="212.55" width="2.68" height="2.15" fill="#f5b821"/>
<rect x="276.90" y="212.55" width="2.68" height="2.15" fill="#f5b721"/>
<rect x="278.88" y="212.55" width="2.68" height="2.15" fill="#f4a120"/>
<rect x="280.86" y="212.55" width="2.68" height="2.15" fill="#f38a20"/>
<rect x="282.83" y="212.55" width="2.68" height="2.15" fill="#f17420"/>
<rect x="284.81" y="212.55" width="2.68" height="2.15" fill="#ee5e20"/>
<rect x="286.79" y="212.55" width="7.91" height="2.15" fill="#ec4b20"/>
<rect x="259.10" y="214.00" width="6.63" height="2.15" fill="#f06b20"/>
<rect x="265.03" y="214.00" width="2.68" height="2.15" fill="#f27a20"/>
<rect x="267.01" y="214.00" width="2.68" height="2.15" fill="#f38e20"/>
<rect x="268.99" y="214.00" width="2.68" height="2.15" fill="#f4a320"/>
<rect x="270.97" y="214.00" width="2.68" height="2.15" fill="#f5b621"/>
<rect x="272.94" y="214.00" width="2.68" height="2.15" fill="#f3c526"/>
<rect x="274.92" y="214.00" width="2.68" height="2.15" fill="#f1d42b"/>
<rect x="276.90" y="214.00" width="2.68" height="2.15" fill="#f2d22b"/>
<rect x="278.88" y="214.00" width="2.68" height="2.15" fill="#f4c125"/>
<rect x="280.86" y="214.00" width="2.68" height="2.15" fill="#f5ae20"/>
<rect x="282.83" y="214.00" width="2.68" height="2.15" fill="#f49720"/>
<rect x="284.81" y="214.00" width="2.68" height="2.15" fill="#f27f20"/>
<rect x="286.79" y="214.00" width="7.91" height="2.15" fill="#f06b20"/>
<rect x="259.10" y="215.45" width="6.63" height="2.15" fill="#f39220"/>
<rect x="265.03" y="215.45" width="2.68" height="2.15" fill="#f49f20"/>
<rect x="267.01" y="215.45" width="2.68" height="2.15" fill="#f5b020"/>
<rect x="268.99" y="215.45" width="2.68" height="2.15" fill="#f4bd23"/>
<rect x="270.97" y="215.45" width="2.68" height="2.15" fill="#f3c928"/>
<rect x="272.94" y="215.45" width="2.68" height="2.15" fill="#f1d52c"/>
<rect x="274.92" y="215.45" width="2.68" height="2.15" fill="#eee031"/>
<rect x="276.90" y="215.45" width="2.68" height="2.15" fill="#efe030"/>
<rect x="278.88" y="215.45" width="2.68" height="2.15" fill="#f2d22b"/>
<rect x="280.86" y="215.45" width="2.68" height="2.15" fill="#f3c426"/>
<rect x="282.83" y="215.45" width="2.68" height="2.15" fill="#f5b621"/>
<rect x="284.81" y="215.45" width="2.68" height="2.15" fill="#f4a420"/>
<rect x="286.79" y="215.45" width="7.91" height="2.15" fill="#f39220"/>
<rect x="259.10" y="216.90" width="6.63" height="2.15" fill="#f4bf24"/>
<rect x="265.03" y="216.90" width="2.68" height="2.15" fill="#f3c928"/>
<rect x="267.01" y="216.90" width="2.68" height="2.15" fill="#f1d42c"/>
<rect x="268.99" y="216.90" width="2.68" height="2.15" fill="#f0e030"/>
<rect x="270.97" y="216.90" width="2.68" height="2.15" fill="#e2dd36"/>
<rect x="272.94" y="216.90" width="2.68" height="2.15" fill="#d3db3c"/>
<rect x="274.92" y="216.90" width="2.68" height="2.15" fill="#c5d843"/>
<rect x="276.90" y="216.90" width="2.68" height="2.15" fill="#c6d842"/>
<rect x="278.88" y="216.90" width="2.68" height="2.15" fill="#d7dc3b"/>
<rect x="280.86" y="216.90" width="2.68" height="2.15" fill="#e8df33"/>
<rect x="282.83" y="216.90" width="2.68" height="2.15" fill="#f1d92d"/>
<rect x="284.81" y="216.90" width="2.68" height="2.15" fill="#f2cc29"/>
<rect x="286.79" y="216.90" width="7.91" height="2.15" fill="#f4bf24"/>
<rect x="259.10" y="218.35" width="6.63" height="2.15" fill="#f0dc2e"/>
<rect x="265.03" y="218.35" width="2.68" height="2.15" fill="#e9df33"/>
<rect x="267.01" y="218.35" width="2.68" height="2.15" fill="#d9dc3a"/>
<rect x="268.99" y="218.35" width="2.68" height="2.15" fill="#c9d941"/>
<rect x="270.97" y="218.35" width="2.68" height="2.15" fill="#b9d647"/>
<rect x="272.94" y="218.35" width="2.68" height="2.15" fill="#acd254"/>
<rect x="274.92" y="218.35" width="2.68" height="2.15" fill="#9ece62"/>
<rect x="276.90" y="218.35" width="2.68" height="2.15" fill="#9fcf61"/>
<rect x="278.88" y="218.35" width="2.68" height="2.15" fill="#afd351"/>
<rect x="280.86" y="218.35" width="2.68" height="2.15" fill="#c0d745"/>
<rect x="282.83" y="218.35" width="2.68" height="2.15" fill="#d2db3d"/>
<rect x="284.81" y="218.35" width="2.68" height="2.15" fill="#e5de35"/>
<rect x="286.79" y="218.35" width="7.91" height="2.15" fill="#f0dc2e"/>
<rect x="259.10" y="219.80" width="6.63" height="2.15" fill="#ebdf32"/>
<rect x="265.03" y="219.80" width="2.68" height="2.15" fill="#dddd38"/>
<rect x="267.01" y="219.80" width="2.68" height="2.15" fill="#cdda3f"/>
<rect x="268.99" y="219.80" width="2.68" height="2.15" fill="#bcd746"/>
<rect x="270.97" y="219.80" width="2.68" height="2.15" fill="#add353"/>
<rect x="272.94" y="219.80" width="2.68" height="2.15" fill="#9fcf61"/>
<rect x="274.92" y="219.80" width="2.68" height="2.15" fill="#91cb6f"/>
<rect x="276.90" y="219.80" width="2.68" height="2.15" fill="#92cb6e"/>
<rect x="278.88" y="219.80" width="2.68" height="2.15" fill="#a3d05d"/>
<rect x="280.86" y="219.80" width="2.68" height="2.15" fill="#b3d54d"/>
<rect x="282.83" y="219.80" width="2.68" height="2.15" fill="#c6d842"/>
<rect x="284.81" y="219.80" width="2.68" height="2.15" fill="#d9dc3a"/>
<rect x="286.79" y="219.80" width="7.91" height="2.15" fill="#ebdf32"/>
<rect x="259.10" y="221.25" width="6.63" height="2.15" fill="#c7d942"/>
<rect x="265.03" y="221.25" width="2.68" height="2.15" fill="#bcd746"/>
<rect x="267.01" y="221.25" width="2.68" height="2.15" fill="#b1d44f"/>
<rect x="268.99" y="221.25" width="2.68" height="2.15" fill="#a6d15a"/>
<rect x="270.97" y="221.25" width="2.68" height="2.15" fill="#9bce65"/>
<rect x="272.94" y="221.25" width="2.68" height="2.15" fill="#91ca6f"/>
<rect x="274.92" y="221.25" width="2.68" height="2.15" fill="#86c87b"/>
<rect x="276.90" y="221.25" width="2.68" height="2.15" fill="#87c87a"/>
<rect x="278.88" y="221.25" width="2.68" height="2.15" fill="#93cb6d"/>
<rect x="280.86" y="221.25" width="2.68" height="2.15" fill="#a0cf60"/>
<rect x="282.83" y="221.25" width="2.68" height="2.15" fill="#add353"/>
<rect x="284.81" y="221.25" width="2.68" height="2.15" fill="#b9d647"/>
<rect x="286.79" y="221.25" width="7.91" height="2.15" fill="#c7d942"/>
<rect x="259.10" y="222.70" width="6.63" height="2.15" fill="#94cb6c"/>
<rect x="265.03" y="222.70" width="2.68" height="2.15" fill="#8dca73"/>
<rect x="267.01" y="222.70" width="2.68" height="2.15" fill="#86c77b"/>
<rect x="268.99" y="222.70" width="2.68" height="2.15" fill="#7ec686"/>
<rect x="270.97" y="222.70" width="2.68" height="2.15" fill="#77c491"/>
<rect x="272.94" y="222.70" width="2.68" height="2.15" fill="#6fc29c"/>
<rect x="274.92" y="222.70" width="2.68" height="2.15" fill="#68c1a7"/>
<rect x="276.90" y="222.70" width="2.68" height="2.15" fill="#69c1a6"/>
<rect x="278.88" y="222.70" width="2.68" height="2.15" fill="#71c399"/>
<rect x="280.86" y="222.70" width="2.68" height="2.15" fill="#7ac58c"/>
<rect x="282.83" y="222.70" width="2.68" height="2.15" fill="#83c780"/>
<rect x="284.81" y="222.70" width="2.68" height="2.15" fill="#8cc974"/>
<rect x="286.79" y="222.70" width="7.91" height="2.15" fill="#94cb6c"/>
<rect x="259.10" y="224.15" width="6.63" height="2.15" fill="#68c1a6"/>
<rect x="265.03" y="224.15" width="2.68" height="2.15" fill="#65c0ab"/>
<rect x="267.01" y="224.15" width="2.68" height="2.15" fill="#60bfb2"/>
<rect x="268.99" y="224.15" width="2.68" height="2.15" fill="#5cbeb9"/>
<rect x="270.97" y="224.15" width="2.68" height="2.15" fill="#59bcbd"/>
<rect x="272.94" y="224.15" width="2.68" height="2.15" fill="#56bac1"/>
<rect x="274.92" y="224.15" width="4.66" height="2.15" fill="#54b8c5"/>
<rect x="278.88" y="224.15" width="2.68" height="2.15" fill="#57bac0"/>
<rect x="280.86" y="224.15" width="2.68" height="2.15" fill="#5abdbb"/>
<rect x="282.83" y="224.15" width="2.68" height="2.15" fill="#5ebfb5"/>
<rect x="284.81" y="224.15" width="2.68" height="2.15" fill="#64c0ad"/>
<rect x="286.79" y="224.15" width="7.91" height="2.15" fill="#68c1a6"/>
<rect x="259.10" y="225.60" width="2.68" height="2.15" fill="#52b7c8"/>
<rect x="261.08" y="225.60" width="2.68" height="2.15" fill="#52b7c9"/>
<rect x="263.06" y="225.60" width="2.68" height="2.15" fill="#52b6c9"/>
<rect x="265.03" y="225.60" width="2.68" height="2.15" fill="#50b5cb"/>
<rect x="267.01" y="225.60" width="2.68" height="2.15" fill="#4fb4ce"/>
<rect x="268.99" y="225.60" width="2.68" height="2.15" fill="#4db2d2"/>
<rect x="270.97" y="225.60" width="2.68" height="2.15" fill="#4ab1d5"/>
<rect x="272.94" y="225.60" width="2.68" height="2.15" fill="#49afd8"/>
<rect x="274.92" y="225.60" width="2.68" height="2.15" fill="#47aedb"/>
<rect x="276.90" y="225.60" width="2.68" height="2.15" fill="#48afda"/>
<rect x="278.88" y="225.60" width="2.68" height="2.15" fill="#4ab0d6"/>
<rect x="280.86" y="225.60" width="2.68" height="2.15" fill="#4cb2d2"/>
<rect x="282.83" y="225.60" width="2.68" height="2.15" fill="#4eb4cf"/>
<rect x="284.81" y="225.60" width="2.68" height="2.15" fill="#50b5cb"/>
<rect x="286.79" y="225.60" width="2.68" height="2.15" fill="#52b7c9"/>
<rect x="288.77" y="225.60" width="5.93" height="2.15" fill="#52b7c8"/>
<rect x="259.10" y="227.05" width="2.68" height="2.15" fill="#49b0d8"/>
<rect x="261.08" y="227.05" width="2.68" height="2.15" fill="#49afd8"/>
<rect x="263.06" y="227.05" width="2.68" height="2.15" fill="#48afd9"/>
<rect x="265.03" y="227.05" width="2.68" height="2.15" fill="#48afda"/>
<rect x="267.01" y="227.05" width="2.68" height="2.15" fill="#47aedb"/>
<rect x="268.99" y="227.05" width="2.68" height="2.15" fill="#46addd"/>
<rect x="270.97" y="227.05" width="2.68" height="2.15" fill="#45acdf"/>
<rect x="272.94" y="227.05" width="6.63" height="2.15" fill="#44ace0"/>
<rect x="278.88" y="227.05" width="2.68" height="2.15" fill="#45adde"/>
<rect x="280.86" y="227.05" width="2.68" height="2.15" fill="#47aedc"/>
<rect x="282.83" y="227.05" width="2.68" height="2.15" fill="#48afda"/>
<rect x="284.81" y="227.05" width="2.68" height="2.15" fill="#48afd9"/>
<rect x="286.79" y="227.05" width="2.68" height="2.15" fill="#49afd8"/>
<rect x="288.77" y="227.05" width="5.93" height="2.15" fill="#49b0d8"/>
<rect x="259.10" y="228.50" width="2.68" height="2.15" fill="#49b0d8"/>
<rect x="261.08" y="228.50" width="4.66" height="2.15" fill="#48afd9"/>
<rect x="265.03" y="228.50" width="2.68" height="2.15" fill="#47aedb"/>
<rect x="267.01" y="228.50" width="2.68" height="2.15" fill="#45adde"/>
<rect x="268.99" y="228.50" width="2.68" height="2.15" fill="#44abe0"/>
<rect x="270.97" y="228.50" width="2.68" height="2.15" fill="#43a9df"/>
<rect x="272.94" y="228.50" width="4.66" height="2.15" fill="#42a7df"/>
<rect x="276.90" y="228.50" width="2.68" height="2.15" fill="#43a8df"/>
<rect x="278.88" y="228.50" width="2.68" height="2.15" fill="#44abe0"/>
<rect x="280.86" y="228.50" width="2.68" height="2.15" fill="#45adde"/>
<rect x="282.83" y="228.50" width="2.68" height="2.15" fill="#47aedb"/>
<rect x="284.81" y="228.50" width="2.68" height="2.15" fill="#48afda"/>
<rect x="286.79" y="228.50" width="2.68" height="2.15" fill="#48afd9"/>
<rect x="288.77" y="228.50" width="5.93" height="2.15" fill="#49b0d8"/>
<rect x="259.10" y="229.95" width="2.68" height="2.15" fill="#49afd8"/>
<rect x="261.08" y="229.95" width="2.68" height="2.15" fill="#48afd9"/>
<rect x="263.06" y="229.95" width="2.68" height="2.15" fill="#48afda"/>
<rect x="265.03" y="229.95" width="2.68" height="2.15" fill="#46aedc"/>
<rect x="267.01" y="229.95" width="2.68" height="2.15" fill="#44ace0"/>
<rect x="268.99" y="229.95" width="2.68" height="2.15" fill="#43a8df"/>
<rect x="270.97" y="229.95" width="2.68" height="2.15" fill="#41a5de"/>
<rect x="272.94" y="229.95" width="2.68" height="2.15" fill="#40a2de"/>
<rect x="274.92" y="229.95" width="2.68" height="2.15" fill="#40a2dd"/>
<rect x="276.90" y="229.95" width="2.68" height="2.15" fill="#41a4de"/>
<rect x="278.88" y="229.95" width="2.68" height="2.15" fill="#42a8df"/>
<rect x="280.86" y="229.95" width="2.68" height="2.15" fill="#44abe0"/>
<rect x="282.83" y="229.95" width="2.68" height="2.15" fill="#46addd"/>
<rect x="284.81" y="229.95" width="2.68" height="2.15" fill="#47afda"/>
<rect x="286.79" y="229.95" width="2.68" height="2.15" fill="#48afd9"/>
<rect x="288.77" y="229.95" width="2.68" height="2.15" fill="#49afd8"/>
<rect x="290.74" y="229.95" width="3.96" height="2.15" fill="#49b0d8"/>
<rect x="259.10" y="231.40" width="2.68" height="2.15" fill="#49afd8"/>
<rect x="261.08" y="231.40" width="2.68" height="2.15" fill="#48afd9"/>
<rect x="263.06" y="231.40" width="2.68" height="2.15" fill="#48afda"/>
<rect x="265.03" y="231.40" width="2.68" height="2.15" fill="#46addd"/>
<rect x="267.01" y="231.40" width="2.68" height="2.15" fill="#44abe0"/>
<rect x="268.99" y="231.40" width="2.68" height="2.15" fill="#42a7df"/>
<rect x="270.97" y="231.40" width="2.68" height="2.15" fill="#40a3de"/>
<rect x="272.94" y="231.40" width="2.68" height="2.15" fill="#3fa0dd"/>
<rect x="274.92" y="231.40" width="2.68" height="2.15" fill="#3f9fdd"/>
<rect x="276.90" y="231.40" width="2.68" height="2.15" fill="#40a2dd"/>
<rect x="278.88" y="231.40" width="2.68" height="2.15" fill="#42a6df"/>
<rect x="280.86" y="231.40" width="2.68" height="2.15" fill="#43abe0"/>
<rect x="282.83" y="231.40" width="2.68" height="2.15" fill="#46addd"/>
<rect x="284.81" y="231.40" width="2.68" height="2.15" fill="#47aedb"/>
<rect x="286.79" y="231.40" width="2.68" height="2.15" fill="#48afd9"/>
<rect x="288.77" y="231.40" width="2.68" height="2.15" fill="#49afd8"/>
<rect x="290.74" y="231.40" width="3.96" height="2.15" fill="#49b0d8"/>
<rect x="259.10" y="232.85" width="2.68" height="2.15" fill="#49afd8"/>
<rect x="261.08" y="232.85" width="2.68" height="2.15" fill="#48afd9"/>
<rect x="263.06" y="232.85" width="2.68" height="2.15" fill="#48afda"/>
<rect x="265.03" y="232.85" width="2.68" height="2.15" fill="#46aedc"/>
<rect x="267.01" y="232.85" width="2.68" height="2.15" fill="#44ace0"/>
<rect x="268.99" y="232.85" width="2.68" height="2.15" fill="#42a8df"/>
<rect x="270.97" y="232.85" width="2.68" height="2.15" fill="#41a4de"/>
<rect x="272.94" y="232.85" width="4.66" height="2.15" fill="#40a1dd"/>
<rect x="276.90" y="232.85" width="2.68" height="2.15" fill="#41a3de"/>
<rect x="278.88" y="232.85" width="2.68" height="2.15" fill="#42a7df"/>
<rect x="280.86" y="232.85" width="2.68" height="2.15" fill="#44abe0"/>
<rect x="282.83" y="232.85" width="2.68" height="2.15" fill="#46addd"/>
<rect x="284.81" y="232.85" width="2.68" height="2.15" fill="#47afda"/>
<rect x="286.79" y="232.85" width="2.68" height="2.15" fill="#48afd9"/>
<rect x="288.77" y="232.85" width="2.68" height="2.15" fill="#49afd8"/>
<rect x="290.74" y="232.85" width="3.96" height="2.15" fill="#49b0d8"/>
<rect x="259.10" y="234.30" width="2.68" height="2.15" fill="#49b0d8"/>
<rect x="261.08" y="234.30" width="4.66" height="2.15" fill="#48afd9"/>
<rect x="265.03" y="234.30" width="2.68" height="2.15" fill="#47aedb"/>
<rect x="267.01" y="234.30" width="2.68" height="2.15" fill="#45adde"/>
<rect x="268.99" y="234.30" width="2.68" height="2.15" fill="#43abe0"/>
<rect x="270.97" y="234.30" width="2.68" height="2.15" fill="#42a7df"/>
<rect x="272.94" y="234.30" width="2.68" height="2.15" fill="#42a5de"/>
<rect x="274.92" y="234.30" width="2.68" height="2.15" fill="#41a5de"/>
<rect x="276.90" y="234.30" width="2.68" height="2.15" fill="#42a7df"/>
<rect x="278.88" y="234.30" width="2.68" height="2.15" fill="#43aadf"/>
<rect x="280.86" y="234.30" width="2.68" height="2.15" fill="#45addf"/>
<rect x="282.83" y="234.30" width="2.68" height="2.15" fill="#47aedc"/>
<rect x="284.81" y="234.30" width="2.68" height="2.15" fill="#48afda"/>
<rect x="286.79" y="234.30" width="2.68" height="2.15" fill="#48afd9"/>
<rect x="288.77" y="234.30" width="2.68" height="2.15" fill="#49afd8"/>
<rect x="290.74" y="234.30" width="3.96" height="2.15" fill="#49b0d8"/>
<rect x="259.10" y="235.75" width="2.68" height="2.15" fill="#49b0d8"/>
<rect x="261.08" y="235.75" width="2.68" height="2.15" fill="#49afd8"/>
<rect x="263.06" y="235.75" width="2.68" height="2.15" fill="#48afd9"/>
<rect x="265.03" y="235.75" width="2.68" height="2.15" fill="#48afda"/>
<rect x="267.01" y="235.75" width="2.68" height="2.15" fill="#47aedc"/>
<rect x="268.99" y="235.75" width="2.68" height="2.15" fill="#45adde"/>
<rect x="270.97" y="235.75" width="2.68" height="2.15" fill="#44ace0"/>
<rect x="272.94" y="235.75" width="2.68" height="2.15" fill="#43abe0"/>
<rect x="274.92" y="235.75" width="2.68" height="2.15" fill="#43aae0"/>
<rect x="276.90" y="235.75" width="2.68" height="2.15" fill="#44abe0"/>
<rect x="278.88" y="235.75" width="2.68" height="2.15" fill="#45addf"/>
<rect x="280.86" y="235.75" width="2.68" height="2.15" fill="#46aedc"/>
<rect x="282.83" y="235.75" width="2.68" height="2.15" fill="#47afda"/>
<rect x="284.81" y="235.75" width="2.68" height="2.15" fill="#48afd9"/>
<rect x="286.79" y="235.75" width="2.68" height="2.15" fill="#49afd8"/>
<rect x="288.77" y="235.75" width="5.93" height="2.15" fill="#49b0d8"/>
<rect x="259.10" y="237.20" width="6.63" height="2.15" fill="#52b6c9"/>
<rect x="265.03" y="237.20" width="2.68" height="2.15" fill="#51b6ca"/>
<rect x="267.01" y="237.20" width="2.68" height="2.15" fill="#51b6cb"/>
<rect x="268.99" y="237.20" width="2.68" height="2.15" fill="#50b5cc"/>
<rect x="270.97" y="237.20" width="2.68" height="2.15" fill="#4fb4cd"/>
<rect x="272.94" y="237.20" width="4.66" height="2.15" fill="#4fb4ce"/>
<rect x="276.90" y="237.20" width="2.68" height="2.15" fill="#4fb4cd"/>
<rect x="278.88" y="237.20" width="2.68" height="2.15" fill="#50b5cc"/>
<rect x="280.86" y="237.20" width="2.68" height="2.15" fill="#51b5cb"/>
<rect x="282.83" y="237.20" width="4.66" height="2.15" fill="#51b6ca"/>
<rect x="286.79" y="237.20" width="7.91" height="2.15" fill="#52b6c9"/>
<rect x="259.10" y="238.65" width="4.66" height="2.15" fill="#6fc29d"/>
<rect x="263.06" y="238.65" width="2.68" height="2.15" fill="#6ec29d"/>
<rect x="265.03" y="238.65" width="4.66" height="2.15" fill="#6ec29e"/>
<rect x="268.99" y="238.65" width="2.68" height="2.15" fill="#6dc29f"/>
<rect x="270.97" y="238.65" width="2.68" height="2.15" fill="#6dc2a0"/>
<rect x="272.94" y="238.65" width="4.66" height="2.15" fill="#6cc2a0"/>
<rect x="276.90" y="238.65" width="2.68" height="2.15" fill="#6dc2a0"/>
<rect x="278.88" y="238.65" width="2.68" height="2.15" fill="#6dc29f"/>
<rect x="280.86" y="238.65" width="4.66" height="2.15" fill="#6ec29e"/>
<rect x="284.81" y="238.65" width="2.68" height="2.15" fill="#6ec29d"/>
<rect x="286.79" y="238.65" width="7.91" height="2.15" fill="#6fc29d"/>
<rect x="259.10" y="240.10" width="6.63" height="2.15" fill="#83c77f"/>
<rect x="265.03" y="240.10" width="2.68" height="2.15" fill="#83c780"/>
<rect x="267.01" y="240.10" width="2.68" height="2.15" fill="#82c781"/>
<rect x="268.99" y="240.10" width="2.68" height="2.15" fill="#81c682"/>
<rect x="270.97" y="240.10" width="2.68" height="2.15" fill="#81c683"/>
<rect x="272.94" y="240.10" width="2.68" height="2.15" fill="#80c684"/>
<rect x="274.92" y="240.10" width="2.68" height="2.15" fill="#7fc685"/>
<rect x="276.90" y="240.10" width="2.68" height="2.15" fill="#7fc684"/>
<rect x="278.88" y="240.10" width="2.68" height="2.15" fill="#80c683"/>
<rect x="280.86" y="240.10" width="2.68" height="2.15" fill="#81c682"/>
<rect x="282.83" y="240.10" width="2.68" height="2.15" fill="#82c781"/>
<rect x="284.81" y="240.10" width="2.68" height="2.15" fill="#83c780"/>
<rect x="286.79" y="240.10" width="7.91" height="2.15" fill="#83c77f"/>
<rect x="259.10" y="241.55" width="4.66" height="1.45" fill="#9acd66"/>
<rect x="263.06" y="241.55" width="2.68" height="1.45" fill="#99cd67"/>
<rect x="265.03" y="241.55" width="2.68" height="1.45" fill="#98cd68"/>
<rect x="267.01" y="241.55" width="2.68" height="1.45" fill="#97cc69"/>
<rect x="268.99" y="241.55" width="2.68" height="1.45" fill="#96cc6a"/>
<rect x="270.97" y="241.55" width="2.68" height="1.45" fill="#95cc6b"/>
<rect x="272.94" y="241.55" width="2.68" height="1.45" fill="#93cb6d"/>
<rect x="274.92" y="241.55" width="4.66" height="1.45" fill="#92cb6e"/>
<rect x="278.88" y="241.55" width="2.68" height="1.45" fill="#94cb6c"/>
<rect x="280.86" y="241.55" width="2.68" height="1.45" fill="#95cc6b"/>
<rect x="282.83" y="241.55" width="2.68" height="1.45" fill="#97cc69"/>
<rect x="284.81" y="241.55" width="2.68" height="1.45" fill="#98cd68"/>
<rect x="286.79" y="241.55" width="7.91" height="1.45" fill="#9acd66"/>
<rect x="304.50" y="205.30" width="6.63" height="2.15" fill="#ea4120"/>
<rect x="310.43" y="205.30" width="2.68" height="2.15" fill="#ec4e20"/>
<rect x="312.41" y="205.30" width="2.68" height="2.15" fill="#ef6320"/>
<rect x="314.39" y="205.30" width="2.68" height="2.15" fill="#f27820"/>
<rect x="316.37" y="205.30" width="14.54" height="2.15" fill="#f38620"/>
<rect x="330.21" y="205.30" width="2.68" height="2.15" fill="#f16e20"/>
<rect x="332.19" y="205.30" width="7.91" height="2.15" fill="#ed5820"/>
<rect x="304.50" y="206.75" width="6.63" height="2.15" fill="#ea4320"/>
<rect x="310.43" y="206.75" width="2.68" height="2.15" fill="#ec5120"/>
<rect x="312.41" y="206.75" width="2.68" height="2.15" fill="#ef6620"/>
<rect x="314.39" y="206.75" width="2.68" height="2.15" fill="#f27b20"/>
<rect x="316.37" y="206.75" width="14.54" height="2.15" fill="#f38920"/>
<rect x="330.21" y="206.75" width="2.68" height="2.15" fill="#f17120"/>
<rect x="332.19" y="206.75" width="7.91" height="2.15" fill="#ee5a20"/>
<rect x="304.50" y="208.20" width="6.63" height="2.15" fill="#eb4620"/>
<rect x="310.43" y="208.20" width="2.68" height="2.15" fill="#ed5320"/>
<rect x="312.41" y="208.20" width="2.68" height="2.15" fill="#f06920"/>
<rect x="314.39" y="208.20" width="2.68" height="2.15" fill="#f27e20"/>
<rect x="316.37" y="208.20" width="14.54" height="2.15" fill="#f38d20"/>
<rect x="330.21" y="208.20" width="2.68" height="2.15" fill="#f17420"/>
<rect x="332.19" y="208.20" width="7.91" height="2.15" fill="#ee5c20"/>
<rect x="304.50" y="209.65" width="6.63" height="2.15" fill="#eb4820"/>
<rect x="310.43" y="209.65" width="2.68" height="2.15" fill="#ed5620"/>
<rect x="312.41" y="209.65" width="2.68" height="2.15" fill="#f06c20"/>
<rect x="314.39" y="209.65" width="2.68" height="2.15" fill="#f38320"/>
<rect x="316.37" y="209.65" width="14.54" height="2.15" fill="#f39220"/>
<rect x="330.21" y="209.65" width="2.68" height="2.15" fill="#f27720"/>
<rect x="332.19" y="209.65" width="7.91" height="2.15" fill="#ee5f20"/>
<rect x="304.50" y="211.10" width="6.63" height="2.15" fill="#eb4a20"/>
<rect x="310.43" y="211.10" width="2.68" height="2.15" fill="#ee5e20"/>
<rect x="312.41" y="211.10" width="2.68" height="2.15" fill="#f27e20"/>
<rect x="314.39" y="211.10" width="2.68" height="2.15" fill="#f4a020"/>
<rect x="316.37" y="211.10" width="14.54" height="2.15" fill="#f5b420"/>
<rect x="330.21" y="211.10" width="2.68" height="2.15" fill="#f38a20"/>
<rect x="332.19" y="211.10" width="7.91" height="2.15" fill="#ef6120"/>
<rect x="304.50" y="212.55" width="6.63" height="2.15" fill="#ee5c20"/>
<rect x="310.43" y="212.55" width="2.68" height="2.15" fill="#f17120"/>
<rect x="312.41" y="212.55" width="2.68" height="2.15" fill="#f39620"/>
<rect x="314.39" y="212.55" width="2.68" height="2.15" fill="#f4b922"/>
<rect x="316.37" y="212.55" width="14.54" height="2.15" fill="#f3ca28"/>
<rect x="330.21" y="212.55" width="2.68" height="2.15" fill="#f49f20"/>
<rect x="332.19" y="212.55" width="7.91" height="2.15" fill="#f06d20"/>
<rect x="304.50" y="214.00" width="6.63" height="2.15" fill="#f27920"/>
<rect x="310.43" y="214.00" width="2.68" height="2.15" fill="#f38e20"/>
<rect x="312.41" y="214.00" width="2.68" height="2.15" fill="#f5af20"/>
<rect x="314.39" y="214.00" width="2.68" height="2.15" fill="#f3c928"/>
<rect x="316.37" y="214.00" width="14.54" height="2.15" fill="#f1d82d"/>
<rect x="330.21" y="214.00" width="2.68" height="2.15" fill="#f5b420"/>
<rect x="332.19" y="214.00" width="7.91" height="2.15" fill="#f38220"/>
<rect x="304.50" y="215.45" width="6.63" height="2.15" fill="#f4a420"/>
<rect x="310.43" y="215.45" width="2.68" height="2.15" fill="#f5b220"/>
<rect x="312.41" y="215.45" width="2.68" height="2.15" fill="#f3c225"/>
<rect x="314.39" y="215.45" width="2.68" height="2.15" fill="#f2d22b"/>
<rect x="316.37" y="215.45" width="14.54" height="2.15" fill="#f0dc2f"/>
<rect x="330.21" y="215.45" width="2.68" height="2.15" fill="#f3c225"/>
<rect x="332.19" y="215.45" width="7.91" height="2.15" fill="#f4a520"/>
<rect x="304.50" y="216.90" width="6.63" height="2.15" fill="#f3c325"/>
<rect x="310.43" y="216.90" width="2.68" height="2.15" fill="#f3c827"/>
<rect x="312.41" y="216.90" width="2.68" height="2.15" fill="#f2d12b"/>
<rect x="314.39" y="216.90" width="2.68" height="2.15" fill="#f1da2e"/>
<rect x="316.37" y="216.90" width="14.54" height="2.15" fill="#f0e030"/>
<rect x="330.21" y="216.90" width="2.68" height="2.15" fill="#f2d12b"/>
<rect x="332.19" y="216.90" width="7.91" height="2.15" fill="#f3c325"/>
<rect x="304.50" y="218.35" width="6.63" height="2.15" fill="#f2d22b"/>
<rect x="310.43" y="218.35" width="2.68" height="2.15" fill="#f0dc2e"/>
<rect x="312.41" y="218.35" width="2.68" height="2.15" fill="#e1dd36"/>
<rect x="314.39" y="218.35" width="2.68" height="2.15" fill="#cdda3f"/>
<rect x="316.37" y="218.35" width="14.54" height="2.15" fill="#c0d844"/>
<rect x="330.21" y="218.35" width="2.68" height="2.15" fill="#e1dd36"/>
<rect x="332.19" y="218.35" width="7.91" height="2.15" fill="#f2d22b"/>
<rect x="304.50" y="219.80" width="6.63" height="2.15" fill="#f1d82d"/>
<rect x="310.43" y="219.80" width="2.68" height="2.15" fill="#e8df33"/>
<rect x="312.41" y="219.80" width="2.68" height="2.15" fill="#cbd940"/>
<rect x="314.39" y="219.80" width="2.68" height="2.15" fill="#b0d450"/>
<rect x="316.37" y="219.80" width="14.54" height="2.15" fill="#a0cf60"/>
<rect x="330.21" y="219.80" width="2.68" height="2.15" fill="#cbd940"/>
<rect x="332.19" y="219.80" width="7.91" height="2.15" fill="#f1d82d"/>
<rect x="304.50" y="221.25" width="6.63" height="2.15" fill="#f0df2f"/>
<rect x="310.43" y="221.25" width="2.68" height="2.15" fill="#dddd38"/>
<rect x="312.41" y="221.25" width="2.68" height="2.15" fill="#bcd746"/>
<rect x="314.39" y="221.25" width="2.68" height="2.15" fill="#9fcf61"/>
<rect x="316.37" y="221.25" width="14.54" height="2.15" fill="#8dca73"/>
<rect x="330.21" y="221.25" width="2.68" height="2.15" fill="#bcd746"/>
<rect x="332.19" y="221.25" width="7.91" height="2.15" fill="#f0df2f"/>
<rect x="304.50" y="222.70" width="6.63" height="2.15" fill="#d0da3e"/>
<rect x="310.43" y="222.70" width="2.68" height="2.15" fill="#c0d744"/>
<rect x="312.41" y="222.70" width="2.68" height="2.15" fill="#a9d157"/>
<rect x="314.39" y="222.70" width="2.68" height="2.15" fill="#92cb6e"/>
<rect x="316.37" y="222.70" width="14.54" height="2.15" fill="#84c77d"/>
<rect x="330.21" y="222.70" width="2.68" height="2.15" fill="#a8d158"/>
<rect x="332.19" y="222.70" width="7.91" height="2.15" fill="#d0da3e"/>
<rect x="304.50" y="224.15" width="6.63" height="2.15" fill="#aad256"/>
<rect x="310.43" y="224.15" width="2.68" height="2.15" fill="#a0cf60"/>
<rect x="312.41" y="224.15" width="2.68" height="2.15" fill="#8fca71"/>
<rect x="314.39" y="224.15" width="2.68" height="2.15" fill="#80c684"/>
<rect x="316.37" y="224.15" width="14.54" height="2.15" fill="#76c492"/>
<rect x="330.21" y="224.15" width="2.68" height="2.15" fill="#8fca71"/>
<rect x="332.19" y="224.15" width="7.91" height="2.15" fill="#aad256"/>
<rect x="304.50" y="225.60" width="6.63" height="2.15" fill="#88c878"/>
<rect x="310.43" y="225.60" width="2.68" height="2.15" fill="#80c683"/>
<rect x="312.41" y="225.60" width="2.68" height="2.15" fill="#74c395"/>
<rect x="314.39" y="225.60" width="2.68" height="2.15" fill="#68c1a7"/>
<rect x="316.37" y="225.60" width="14.54" height="2.15" fill="#60bfb2"/>
<rect x="330.21" y="225.60" width="2.68" height="2.15" fill="#74c395"/>
<rect x="332.19" y="225.60" width="7.91" height="2.15" fill="#88c878"/>
<rect x="304.50" y="227.05" width="6.63" height="2.15" fill="#88c878"/>
<rect x="310.43" y="227.05" width="2.68" height="2.15" fill="#80c683"/>
<rect x="312.41" y="227.05" width="2.68" height="2.15" fill="#74c395"/>
<rect x="314.39" y="227.05" width="2.68" height="2.15" fill="#68c1a7"/>
<rect x="316.37" y="227.05" width="14.54" height="2.15" fill="#60bfb2"/>
<rect x="330.21" y="227.05" width="2.68" height="2.15" fill="#74c395"/>
<rect x="332.19" y="227.05" width="7.91" height="2.15" fill="#88c878"/>
<rect x="304.50" y="228.50" width="6.63" height="2.15" fill="#88c878"/>
<rect x="310.43" y="228.50" width="2.68" height="2.15" fill="#80c683"/>
<rect x="312.41" y="228.50" width="2.68" height="2.15" fill="#74c396"/>
<rect x="314.39" y="228.50" width="2.68" height="2.15" fill="#67c1a8"/>
<rect x="316.37" y="228.50" width="14.54" height="2.15" fill="#5fbfb3"/>
<rect x="330.21" y="228.50" width="2.68" height="2.15" fill="#74c396"/>
<rect x="332.19" y="228.50" width="7.91" height="2.15" fill="#88c878"/>
<rect x="304.50" y="229.95" width="6.63" height="2.15" fill="#88c878"/>
<rect x="310.43" y="229.95" width="2.68" height="2.15" fill="#80c684"/>
<rect x="312.41" y="229.95" width="2.68" height="2.15" fill="#73c396"/>
<rect x="314.39" y="229.95" width="2.68" height="2.15" fill="#67c0a9"/>
<rect x="316.37" y="229.95" width="14.54" height="2.15" fill="#5fbfb4"/>
<rect x="330.21" y="229.95" width="2.68" height="2.15" fill="#73c396"/>
<rect x="332.19" y="229.95" width="7.91" height="2.15" fill="#88c878"/>
<rect x="304.50" y="231.40" width="6.63" height="2.15" fill="#88c878"/>
<rect x="310.43" y="231.40" width="2.68" height="2.15" fill="#80c684"/>
<rect x="312.41" y="231.40" width="2.68" height="2.15" fill="#73c396"/>
<rect x="314.39" y="231.40" width="2.68" height="2.15" fill="#66c0a9"/>
<rect x="316.37" y="231.40" width="14.54" height="2.15" fill="#5ebeb5"/>
<rect x="330.21" y="231.40" width="2.68" height="2.15" fill="#73c396"/>
<rect x="332.19" y="231.40" width="7.91" height="2.15" fill="#88c878"/>
<rect x="304.50" y="232.85" width="6.63" height="2.15" fill="#88c878"/>
<rect x="310.43" y="232.85" width="2.68" height="2.15" fill="#80c684"/>
<rect x="312.41" y="232.85" width="2.68" height="2.15" fill="#73c397"/>
<rect x="314.39" y="232.85" width="2.68" height="2.15" fill="#66c0aa"/>
<rect x="316.37" y="232.85" width="14.54" height="2.15" fill="#5dbeb6"/>
<rect x="330.21" y="232.85" width="2.68" height="2.15" fill="#73c397"/>
<rect x="332.19" y="232.85" width="7.91" height="2.15" fill="#88c878"/>
<rect x="304.50" y="234.30" width="6.63" height="2.15" fill="#88c878"/>
<rect x="310.43" y="234.30" width="2.68" height="2.15" fill="#80c684"/>
<rect x="312.41" y="234.30" width="2.68" height="2.15" fill="#72c397"/>
<rect x="314.39" y="234.30" width="2.68" height="2.15" fill="#65c0ab"/>
<rect x="316.37" y="234.30" width="14.54" height="2.15" fill="#5dbeb7"/>
<rect x="330.21" y="234.30" width="2.68" height="2.15" fill="#72c397"/>
<rect x="332.19" y="234.30" width="7.91" height="2.15" fill="#88c878"/>
<rect x="304.50" y="235.75" width="6.63" height="2.15" fill="#88c878"/>
<rect x="310.43" y="235.75" width="2.68" height="2.15" fill="#80c684"/>
<rect x="312.41" y="235.75" width="2.68" height="2.15" fill="#72c398"/>
<rect x="314.39" y="235.75" width="2.68" height="2.15" fill="#65c0ab"/>
<rect x="316.37" y="235.75" width="14.54" height="2.15" fill="#5cbeb8"/>
<rect x="330.21" y="235.75" width="2.68" height="2.15" fill="#72c398"/>
<rect x="332.19" y="235.75" width="7.91" height="2.15" fill="#88c878"/>
<rect x="304.50" y="237.20" width="6.63" height="2.15" fill="#88c878"/>
<rect x="310.43" y="237.20" width="2.68" height="2.15" fill="#80c683"/>
<rect x="312.41" y="237.20" width="2.68" height="2.15" fill="#74c495"/>
<rect x="314.39" y="237.20" width="2.68" height="2.15" fill="#68c1a7"/>
<rect x="316.37" y="237.20" width="14.54" height="2.15" fill="#60bfb2"/>
<rect x="330.21" y="237.20" width="2.68" height="2.15" fill="#74c495"/>
<rect x="332.19" y="237.20" width="7.91" height="2.15" fill="#88c878"/>
<rect x="304.50" y="238.65" width="6.63" height="2.15" fill="#88c878"/>
<rect x="310.43" y="238.65" width="2.68" height="2.15" fill="#82c780"/>
<rect x="312.41" y="238.65" width="2.68" height="2.15" fill="#79c58d"/>
<rect x="314.39" y="238.65" width="2.68" height="2.15" fill="#70c39b"/>
<rect x="316.37" y="238.65" width="14.54" height="2.15" fill="#6bc1a3"/>
<rect x="330.21" y="238.65" width="2.68" height="2.15" fill="#79c58d"/>
<rect x="332.19" y="238.65" width="7.91" height="2.15" fill="#88c878"/>
<rect x="304.50" y="240.10" width="6.63" height="2.15" fill="#88c878"/>
<rect x="310.43" y="240.10" width="2.68" height="2.15" fill="#85c77d"/>
<rect x="312.41" y="240.10" width="2.68" height="2.15" fill="#7fc685"/>
<rect x="314.39" y="240.10" width="2.68" height="2.15" fill="#79c58d"/>
<rect x="316.37" y="240.10" width="14.54" height="2.15" fill="#76c492"/>
<rect x="330.21" y="240.10" width="2.68" height="2.15" fill="#7fc685"/>
<rect x="332.19" y="240.10" width="7.91" height="2.15" fill="#88c878"/>
<rect x="304.50" y="241.55" width="6.63" height="1.45" fill="#88c878"/>
<rect x="310.43" y="241.55" width="2.68" height="1.45" fill="#87c87a"/>
<rect x="312.41" y="241.55" width="2.68" height="1.45" fill="#85c77c"/>
<rect x="314.39" y="241.55" width="2.68" height="1.45" fill="#83c77f"/>
<rect x="316.37" y="241.55" width="14.54" height="1.45" fill="#82c781"/>
<rect x="330.21" y="241.55" width="2.68" height="1.45" fill="#85c77c"/>
<rect x="332.19" y="241.55" width="7.91" height="1.45" fill="#88c878"/>
</g>
<text x="232.00" y="154.80" font-size="4.0" text-anchor="middle" font-weight="bold" fill="#000" letter-spacing="0.2" stroke="#000" stroke-width="0.3">24 hrs</text>
<text x="276.70" y="154.80" font-size="4.0" text-anchor="middle" font-weight="bold" fill="#000" letter-spacing="0.2" stroke="#000" stroke-width="0.3">48 hrs</text>
<text x="322.10" y="154.80" font-size="4.0" text-anchor="middle" font-weight="bold" fill="#000" letter-spacing="0.2" stroke="#000" stroke-width="0.3">72 hrs</text>
<text x="213.50" y="158.90" font-size="4.2" text-anchor="end" font-weight="normal" fill="#000" stroke="#000" stroke-width="0.3">10</text>
<line x1="213.60" y1="157.50" x2="214.40" y2="157.50" stroke="#333" stroke-width="0.5" />
<text x="213.50" y="170.65" font-size="4.2" text-anchor="end" font-weight="normal" fill="#000" stroke="#000" stroke-width="0.3">15</text>
<line x1="213.60" y1="169.25" x2="214.40" y2="169.25" stroke="#333" stroke-width="0.5" />
<text x="213.50" y="182.40" font-size="4.2" text-anchor="end" font-weight="normal" fill="#000" stroke="#000" stroke-width="0.3">20</text>
<line x1="213.60" y1="181.00" x2="214.40" y2="181.00" stroke="#333" stroke-width="0.5" />
<text x="213.50" y="194.15" font-size="4.2" text-anchor="end" font-weight="normal" fill="#000" stroke="#000" stroke-width="0.3">25</text>
<line x1="213.60" y1="192.75" x2="214.40" y2="192.75" stroke="#333" stroke-width="0.5" />
<text x="221.00" y="199.70" font-size="4.2" text-anchor="middle" font-weight="normal" fill="#111" stroke="#111" stroke-width="0.2">2</text>
<text x="229.80" y="199.70" font-size="4.2" text-anchor="middle" font-weight="normal" fill="#111" stroke="#111" stroke-width="0.2">4</text>
<text x="238.60" y="199.70" font-size="4.2" text-anchor="middle" font-weight="normal" fill="#111" stroke="#111" stroke-width="0.2">6</text>
<text x="247.40" y="199.70" font-size="4.2" text-anchor="middle" font-weight="normal" fill="#111" stroke="#111" stroke-width="0.2">8</text>
<text x="258.20" y="158.90" font-size="4.2" text-anchor="end" font-weight="normal" fill="#000" stroke="#000" stroke-width="0.3">10</text>
<line x1="258.30" y1="157.50" x2="259.10" y2="157.50" stroke="#333" stroke-width="0.5" />
<text x="258.20" y="170.65" font-size="4.2" text-anchor="end" font-weight="normal" fill="#000" stroke="#000" stroke-width="0.3">15</text>
<line x1="258.30" y1="169.25" x2="259.10" y2="169.25" stroke="#333" stroke-width="0.5" />
<text x="258.20" y="182.40" font-size="4.2" text-anchor="end" font-weight="normal" fill="#000" stroke="#000" stroke-width="0.3">20</text>
<line x1="258.30" y1="181.00" x2="259.10" y2="181.00" stroke="#333" stroke-width="0.5" />
<text x="258.20" y="194.15" font-size="4.2" text-anchor="end" font-weight="normal" fill="#000" stroke="#000" stroke-width="0.3">25</text>
<line x1="258.30" y1="192.75" x2="259.10" y2="192.75" stroke="#333" stroke-width="0.5" />
<text x="265.70" y="199.70" font-size="4.2" text-anchor="middle" font-weight="normal" fill="#111" stroke="#111" stroke-width="0.2">2</text>
<text x="274.50" y="199.70" font-size="4.2" text-anchor="middle" font-weight="normal" fill="#111" stroke="#111" stroke-width="0.2">4</text>
<text x="283.30" y="199.70" font-size="4.2" text-anchor="middle" font-weight="normal" fill="#111" stroke="#111" stroke-width="0.2">6</text>
<text x="292.10" y="199.70" font-size="4.2" text-anchor="middle" font-weight="normal" fill="#111" stroke="#111" stroke-width="0.2">8</text>
<text x="303.60" y="158.90" font-size="4.2" text-anchor="end" font-weight="normal" fill="#000" stroke="#000" stroke-width="0.3">10</text>
<line x1="303.70" y1="157.50" x2="304.50" y2="157.50" stroke="#333" stroke-width="0.5" />
<text x="303.60" y="170.65" font-size="4.2" text-anchor="end" font-weight="normal" fill="#000" stroke="#000" stroke-width="0.3">15</text>
<line x1="303.70" y1="169.25" x2="304.50" y2="169.25" stroke="#333" stroke-width="0.5" />
<text x="303.60" y="182.40" font-size="4.2" text-anchor="end" font-weight="normal" fill="#000" stroke="#000" stroke-width="0.3">20</text>
<line x1="303.70" y1="181.00" x2="304.50" y2="181.00" stroke="#333" stroke-width="0.5" />
<text x="303.60" y="194.15" font-size="4.2" text-anchor="end" font-weight="normal" fill="#000" stroke="#000" stroke-width="0.3">25</text>
<line x1="303.70" y1="192.75" x2="304.50" y2="192.75" stroke="#333" stroke-width="0.5" />
<text x="311.10" y="199.70" font-size="4.2" text-anchor="middle" font-weight="normal" fill="#111" stroke="#111" stroke-width="0.2">2</text>
<text x="319.90" y="199.70" font-size="4.2" text-anchor="middle" font-weight="normal" fill="#111" stroke="#111" stroke-width="0.2">4</text>
<text x="328.70" y="199.70" font-size="4.2" text-anchor="middle" font-weight="normal" fill="#111" stroke="#111" stroke-width="0.2">6</text>
<text x="337.50" y="199.70" font-size="4.2" text-anchor="middle" font-weight="normal" fill="#111" stroke="#111" stroke-width="0.2">8</text>
<text x="213.50" y="206.80" font-size="4.2" text-anchor="end" font-weight="normal" fill="#000" stroke="#000" stroke-width="0.3">10</text>
<line x1="213.60" y1="205.40" x2="214.40" y2="205.40" stroke="#333" stroke-width="0.5" />
<text x="213.50" y="218.55" font-size="4.2" text-anchor="end" font-weight="normal" fill="#000" stroke="#000" stroke-width="0.3">15</text>
<line x1="213.60" y1="217.15" x2="214.40" y2="217.15" stroke="#333" stroke-width="0.5" />
<text x="213.50" y="230.30" font-size="4.2" text-anchor="end" font-weight="normal" fill="#000" stroke="#000" stroke-width="0.3">20</text>
<line x1="213.60" y1="228.90" x2="214.40" y2="228.90" stroke="#333" stroke-width="0.5" />
<text x="213.50" y="242.05" font-size="4.2" text-anchor="end" font-weight="normal" fill="#000" stroke="#000" stroke-width="0.3">25</text>
<line x1="213.60" y1="240.65" x2="214.40" y2="240.65" stroke="#333" stroke-width="0.5" />
<text x="221.00" y="247.60" font-size="4.2" text-anchor="middle" font-weight="normal" fill="#111" stroke="#111" stroke-width="0.2">2</text>
<text x="229.80" y="247.60" font-size="4.2" text-anchor="middle" font-weight="normal" fill="#111" stroke="#111" stroke-width="0.2">4</text>
<text x="238.60" y="247.60" font-size="4.2" text-anchor="middle" font-weight="normal" fill="#111" stroke="#111" stroke-width="0.2">6</text>
<text x="247.40" y="247.60" font-size="4.2" text-anchor="middle" font-weight="normal" fill="#111" stroke="#111" stroke-width="0.2">8</text>
<text x="258.20" y="206.80" font-size="4.2" text-anchor="end" font-weight="normal" fill="#000" stroke="#000" stroke-width="0.3">10</text>
<line x1="258.30" y1="205.40" x2="259.10" y2="205.40" stroke="#333" stroke-width="0.5" />
<text x="258.20" y="218.55" font-size="4.2" text-anchor="end" font-weight="normal" fill="#000" stroke="#000" stroke-width="0.3">15</text>
<line x1="258.30" y1="217.15" x2="259.10" y2="217.15" stroke="#333" stroke-width="0.5" />
<text x="258.20" y="230.30" font-size="4.2" text-anchor="end" font-weight="normal" fill="#000" stroke="#000" stroke-width="0.3">20</text>
<line x1="258.30" y1="228.90" x2="259.10" y2="228.90" stroke="#333" stroke-width="0.5" />
<text x="258.20" y="242.05" font-size="4.2" text-anchor="end" font-weight="normal" fill="#000" stroke="#000" stroke-width="0.3">25</text>
<line x1="258.30" y1="240.65" x2="259.10" y2="240.65" stroke="#333" stroke-width="0.5" />
<text x="265.70" y="247.60" font-size="4.2" text-anchor="middle" font-weight="normal" fill="#111" stroke="#111" stroke-width="0.2">2</text>
<text x="274.50" y="247.60" font-size="4.2" text-anchor="middle" font-weight="normal" fill="#111" stroke="#111" stroke-width="0.2">4</text>
<text x="283.30" y="247.60" font-size="4.2" text-anchor="middle" font-weight="normal" fill="#111" stroke="#111" stroke-width="0.2">6</text>
<text x="292.10" y="247.60" font-size="4.2" text-anchor="middle" font-weight="normal" fill="#111" stroke="#111" stroke-width="0.2">8</text>
<text x="303.60" y="206.80" font-size="4.2" text-anchor="end" font-weight="normal" fill="#000" stroke="#000" stroke-width="0.3">10</text>
<line x1="303.70" y1="205.40" x2="304.50" y2="205.40" stroke="#333" stroke-width="0.5" />
<text x="303.60" y="218.55" font-size="4.2" text-anchor="end" font-weight="normal" fill="#000" stroke="#000" stroke-width="0.3">15</text>
<line x1="303.70" y1="217.15" x2="304.50" y2="217.15" stroke="#333" stroke-width="0.5" />
<text x="303.60" y="230.30" font-size="4.2" text-anchor="end" font-weight="normal" fill="#000" stroke="#000" stroke-width="0.3">20</text>
<line x1="303.70" y1="228.90" x2="304.50" y2="228.90" stroke="#333" stroke-width="0.5" />
<text x="303.60" y="242.05" font-size="4.2" text-anchor="end" font-weight="normal" fill="#000" stroke="#000" stroke-width="0.3">25</text>
<line x1="303.70" y1="240.65" x2="304.50" y2="240.65" stroke="#333" stroke-width="0.5" />
<text x="311.10" y="247.60" font-size="4.2" text-anchor="middle" font-weight="normal" fill="#111" stroke="#111" stroke-width="0.2">2</text>
<text x="319.90" y="247.60" font-size="4.2" text-anchor="middle" font-weight="normal" fill="#111" stroke="#111" stroke-width="0.2">4</text>
<text x="328.70" y="247.60" font-size="4.2" text-anchor="middle" font-weight="normal" fill="#111" stroke="#111" stroke-width="0.2">6</text>
<text x="337.50" y="247.60" font-size="4.2" text-anchor="middle" font-weight="normal" fill="#111" stroke="#111" stroke-width="0.2">8</text>
<text x="196.60" y="174.60" font-size="4.15" text-anchor="start" font-weight="bold" fill="#000" stroke="#000" stroke-width="0.3">siRNA</text>
<text x="196.00" y="179.60" font-size="4.15" text-anchor="start" font-weight="bold" fill="#000" stroke="#000" stroke-width="0.3">+ SW</text>
<text x="197.20" y="223.50" font-size="4.15" text-anchor="start" font-weight="bold" fill="#000" stroke="#000" stroke-width="0.3">siRNA</text>
<text x="197.00" y="228.80" font-size="4.15" text-anchor="start" font-weight="bold" fill="#000" stroke="#000" stroke-width="0.3">- SW</text>
<text transform="translate(204.3,200.5) rotate(-90)" x="0" y="0" font-size="4.2" text-anchor="middle" fill="#000" stroke="#000" stroke-width="0.15">Z (mm) of TNM</text>
<text x="277.00" y="252.40" font-size="4.2" text-anchor="middle" font-weight="normal" fill="#000" stroke="#000" stroke-width="0.15">X (mm) of TNM</text>
<line x1="277.60" y1="196.50" x2="277.60" y2="204.20" stroke="#000" stroke-width="1.0" />
<path d="M275.9,197.8 L277.6,194.8 L279.3,197.8 Z" fill="#000"/>
<defs><linearGradient id="cb" x1="0" y1="1" x2="0" y2="0">
<stop offset="0.000" stop-color="#141850"/>
<stop offset="0.057" stop-color="#202a70"/>
<stop offset="0.115" stop-color="#2c3898"/>
<stop offset="0.172" stop-color="#3448b0"/>
<stop offset="0.230" stop-color="#3662c4"/>
<stop offset="0.287" stop-color="#388cd8"/>
<stop offset="0.345" stop-color="#44ace0"/>
<stop offset="0.402" stop-color="#5cbeb8"/>
<stop offset="0.460" stop-color="#88c878"/>
<stop offset="0.517" stop-color="#b8d648"/>
<stop offset="0.575" stop-color="#f0e030"/>
<stop offset="0.632" stop-color="#f5b420"/>
<stop offset="0.690" stop-color="#f27820"/>
<stop offset="0.747" stop-color="#ea4020"/>
<stop offset="0.805" stop-color="#d8281c"/>
<stop offset="0.862" stop-color="#c01818"/>
<stop offset="1.000" stop-color="#800410"/>
</linearGradient></defs>
<rect x="343.70" y="158.90" width="2.80" height="83.10" fill="url(#cb)" />
<text x="347.80" y="169.90" font-size="4.0" text-anchor="start" font-weight="normal" fill="#000" stroke="#000" stroke-width="0.25">11</text>
<text x="347.80" y="179.63" font-size="4.0" text-anchor="start" font-weight="normal" fill="#000" stroke="#000" stroke-width="0.25">10</text>
<text x="347.80" y="189.36" font-size="4.0" text-anchor="start" font-weight="normal" fill="#000" stroke="#000" stroke-width="0.25">9</text>
<text x="347.80" y="199.09" font-size="4.0" text-anchor="start" font-weight="normal" fill="#000" stroke="#000" stroke-width="0.25">8</text>
<text x="347.80" y="208.81" font-size="4.0" text-anchor="start" font-weight="normal" fill="#000" stroke="#000" stroke-width="0.25">7</text>
<text x="347.80" y="218.54" font-size="4.0" text-anchor="start" font-weight="normal" fill="#000" stroke="#000" stroke-width="0.25">6</text>
<text x="347.80" y="228.27" font-size="4.0" text-anchor="start" font-weight="normal" fill="#000" stroke="#000" stroke-width="0.25">5</text>
<text x="347.80" y="238.00" font-size="4.0" text-anchor="start" font-weight="normal" fill="#000" stroke="#000" stroke-width="0.25">4</text>
<text x="346.10" y="151.90" font-size="4.3" text-anchor="middle" font-weight="normal" fill="#000" stroke="#000" stroke-width="0.3">Fl (a.u.)</text>
<text x="347.00" y="158.40" font-size="4.0" text-anchor="start" font-weight="normal" fill="#000" stroke="#000" stroke-width="0.2">x10<tspan font-size="3.0" dy="-1.8">7</tspan></text>
</g>
</svg>
</body></html>
